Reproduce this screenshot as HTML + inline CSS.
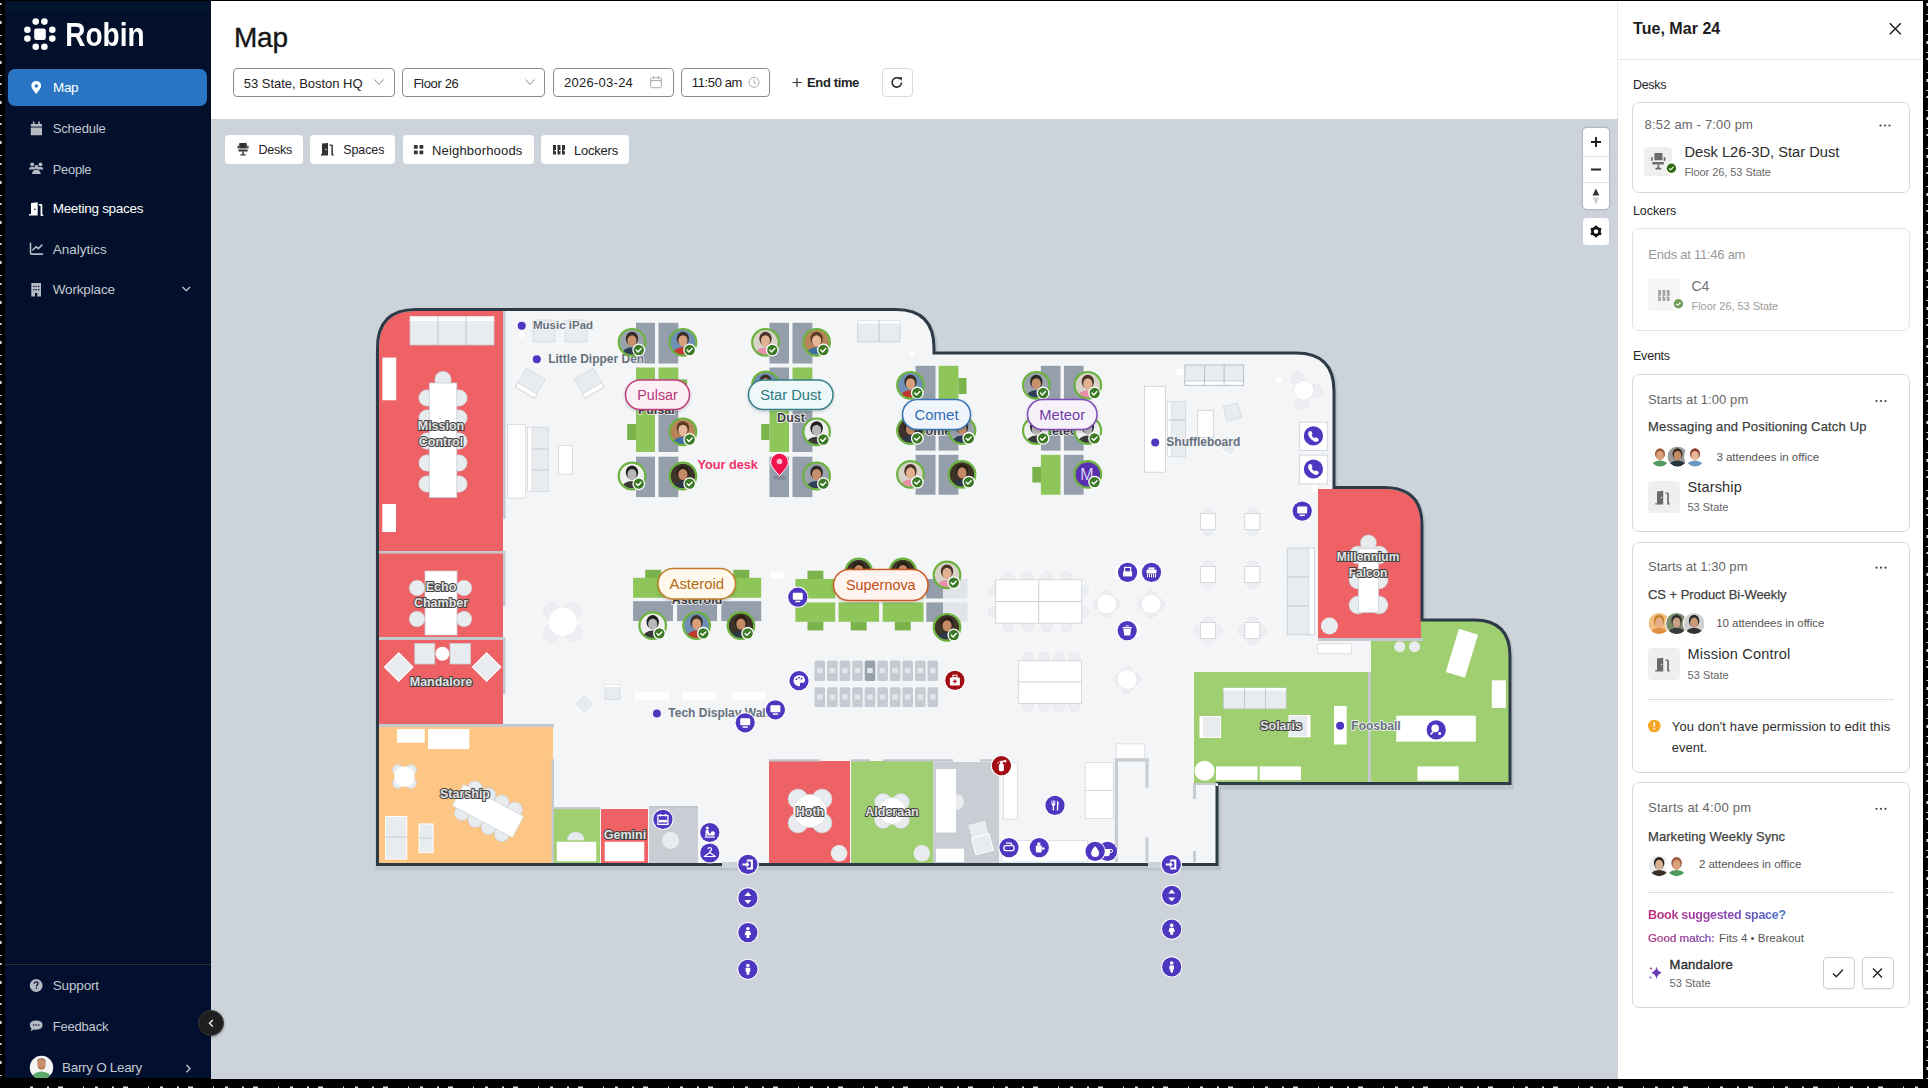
<!DOCTYPE html>
<html><head><meta charset="utf-8">
<style>
*{margin:0;padding:0}
html,body{width:1928px;height:1088px;overflow:hidden;background:#000;font-family:"Liberation Sans",sans-serif}
.a{position:absolute}
.t{white-space:nowrap;line-height:normal}
</style></head><body>
<div class="a" style="left:5px;top:1px;width:206.00px;height:1078.00px;background:#02102c"></div>
<div class="a" style="left:5px;top:1px;width:206.00px;height:10.00px;background:#03142d"></div>
<div class="a" style="left:211px;top:1px;width:1407.00px;height:118.00px;background:#fff"></div>
<div class="a" style="left:211px;top:119px;width:1407.00px;height:960.00px;background:#ccd3db"></div>
<div class="a" style="left:211px;top:119px;width:1407px;height:960px;overflow:hidden"><svg class="a" style="left:-211px;top:-119px" width="1928" height="1088" viewBox="0 0 1928 1088">
<path d="M 377.5 864.5 L 377.5 348 Q 377.5 309.5 416 309.5 L 896 309.5 Q 934 309.5 934 348 L 934 353 L 1296 353 Q 1334 353 1334 391 L 1334 487.5 L 1384 487.5 Q 1422 487.5 1422 525 L 1422 620 L 1474 620 Q 1510 620 1510 656 L 1510 783.5 L 1217 783.5 L 1217 864.5 Z" fill="none" stroke="#000" stroke-opacity="0.08" stroke-width="6" transform="translate(1,3)"/>
<path d="M 377.5 864.5 L 377.5 348 Q 377.5 309.5 416 309.5 L 896 309.5 Q 934 309.5 934 348 L 934 353 L 1296 353 Q 1334 353 1334 391 L 1334 487.5 L 1384 487.5 Q 1422 487.5 1422 525 L 1422 620 L 1474 620 Q 1510 620 1510 656 L 1510 783.5 L 1217 783.5 L 1217 864.5 Z" fill="#f4f5f7"/>
<path d="M 379 552 L 379 348 Q 379 311 416 311 L 503 311 L 503 552 Z" fill="#ee6164"/>
<rect x="379.0" y="553.0" width="124.0" height="84.0" fill="#ee6164"/>
<rect x="379.0" y="640.0" width="124.0" height="84.0" fill="#ee6164"/>
<rect x="379.0" y="726.0" width="174.0" height="137.0" fill="#fdc684"/>
<rect x="554.0" y="809.0" width="46.0" height="54.0" fill="#a0cf72"/>
<rect x="601.0" y="809.0" width="47.0" height="54.0" fill="#ee6164"/>
<rect x="649.0" y="807.0" width="49.0" height="56.0" fill="#c9ced4"/>
<rect x="769.0" y="761.0" width="81.0" height="102.0" fill="#ee6164"/>
<rect x="851.0" y="761.0" width="82.0" height="102.0" fill="#a0cf72"/>
<rect x="933.0" y="762.0" width="66.0" height="101.0" fill="#c9ced4"/>
<rect x="1194.0" y="672.0" width="174.0" height="111.0" fill="#a0cf72"/>
<path d="M 1371 783 L 1371 621 L 1474 621 Q 1509 621 1509 656 L 1509 783 Z" fill="#a0cf72"/>
<path d="M 1318 638 L 1318 489 L 1384 489 Q 1421 489 1421 526 L 1421 638 Z" fill="#ee6164"/>
<rect x="379.0" y="551.0" width="126.0" height="2.5" fill="#c3c9cf"/>
<rect x="379.0" y="637.0" width="126.0" height="3.0" fill="#c3c9cf"/>
<rect x="379.0" y="724.0" width="175.0" height="3.0" fill="#c3c9cf"/>
<rect x="503.0" y="311.0" width="2.5" height="208.0" fill="#c3c9cf"/>
<rect x="503.0" y="551.0" width="2.5" height="55.0" fill="#c3c9cf"/>
<rect x="503.0" y="638.0" width="2.5" height="56.0" fill="#c3c9cf"/>
<rect x="551.5" y="759.0" width="2.5" height="104.0" fill="#c3c9cf"/>
<rect x="1368.0" y="672.0" width="3.0" height="112.0" fill="#c3c9cf"/>
<rect x="1318.0" y="638.0" width="105.0" height="3.0" fill="#c3c9cf"/>
<path d="M 377.5 864.5 L 377.5 348 Q 377.5 309.5 416 309.5 L 896 309.5 Q 934 309.5 934 348 L 934 353 L 1296 353 Q 1334 353 1334 391 L 1334 487.5 L 1384 487.5 Q 1422 487.5 1422 525 L 1422 620 L 1474 620 Q 1510 620 1510 656 L 1510 783.5 L 1217 783.5 L 1217 864.5 Z" fill="none" stroke="#2d3a47" stroke-width="3"/>
<rect x="722.0" y="862.0" width="37.0" height="6.0" fill="#ccd3db"/>
<rect x="1148.0" y="862.0" width="34.0" height="6.0" fill="#ccd3db"/>
<rect x="410.0" y="316.5" width="84.0" height="28.5" fill="#e9ecef" stroke="#c5ccd3" stroke-width="0.8"/>
<rect x="410.0" y="316.5" width="84.0" height="4.5" fill="#fff"/>
<line x1="438" y1="316.5" x2="438" y2="345" stroke="#b9c0c7" stroke-width="0.8"/><line x1="466" y1="316.5" x2="466" y2="345" stroke="#b9c0c7" stroke-width="0.8"/>
<rect x="382.4" y="357.6" width="13.8" height="42.7" fill="#fff"/>
<rect x="382.3" y="504.0" width="13.7" height="28.0" fill="#fff"/>
<circle cx="427.0" cy="398.0" r="8.2" fill="#e9ecef" stroke="#c5ccd3" stroke-width="0.6"/>
<circle cx="459.0" cy="398.0" r="8.2" fill="#e9ecef" stroke="#c5ccd3" stroke-width="0.6"/>
<circle cx="427.0" cy="418.0" r="8.2" fill="#e9ecef" stroke="#c5ccd3" stroke-width="0.6"/>
<circle cx="459.0" cy="418.0" r="8.2" fill="#e9ecef" stroke="#c5ccd3" stroke-width="0.6"/>
<circle cx="427.0" cy="441.0" r="8.2" fill="#e9ecef" stroke="#c5ccd3" stroke-width="0.6"/>
<circle cx="459.0" cy="441.0" r="8.2" fill="#e9ecef" stroke="#c5ccd3" stroke-width="0.6"/>
<circle cx="427.0" cy="463.0" r="8.2" fill="#e9ecef" stroke="#c5ccd3" stroke-width="0.6"/>
<circle cx="459.0" cy="463.0" r="8.2" fill="#e9ecef" stroke="#c5ccd3" stroke-width="0.6"/>
<circle cx="427.0" cy="484.0" r="8.2" fill="#e9ecef" stroke="#c5ccd3" stroke-width="0.6"/>
<circle cx="459.0" cy="484.0" r="8.2" fill="#e9ecef" stroke="#c5ccd3" stroke-width="0.6"/>
<circle cx="443.0" cy="379.5" r="8.2" fill="#e9ecef" stroke="#c5ccd3" stroke-width="0.6"/>
<rect x="429.3" y="383.0" width="27.5" height="114.4" fill="#fff" stroke="#c9d0d6" stroke-width="0.8"/>
<text x="441" y="430" font-size="12.5" font-weight="bold" text-anchor="middle" fill="#e3e3e3" stroke="#424242" stroke-width="2.1" paint-order="stroke" stroke-linejoin="round" font-family="Liberation Sans">Mission</text>
<text x="441" y="446" font-size="12.5" font-weight="bold" text-anchor="middle" fill="#e3e3e3" stroke="#424242" stroke-width="2.1" paint-order="stroke" stroke-linejoin="round" font-family="Liberation Sans">Control</text>
<circle cx="417.0" cy="588.0" r="7.8" fill="#e9ecef" stroke="#c5ccd3" stroke-width="0.6"/>
<circle cx="464.0" cy="588.0" r="7.8" fill="#e9ecef" stroke="#c5ccd3" stroke-width="0.6"/>
<circle cx="417.0" cy="619.0" r="7.8" fill="#e9ecef" stroke="#c5ccd3" stroke-width="0.6"/>
<circle cx="464.0" cy="619.0" r="7.8" fill="#e9ecef" stroke="#c5ccd3" stroke-width="0.6"/>
<rect x="425.0" y="571.0" width="32.0" height="64.0" fill="#fff" stroke="#c9d0d6" stroke-width="0.8"/>
<text x="441" y="591" font-size="12.5" font-weight="bold" text-anchor="middle" fill="#e3e3e3" stroke="#424242" stroke-width="2.1" paint-order="stroke" stroke-linejoin="round" font-family="Liberation Sans">Echo</text>
<text x="441" y="607" font-size="12.5" font-weight="bold" text-anchor="middle" fill="#e3e3e3" stroke="#424242" stroke-width="2.1" paint-order="stroke" stroke-linejoin="round" font-family="Liberation Sans">Chamber</text>
<rect x="414.8" y="643.4" width="20.0" height="20.6" fill="#e9ecef" stroke="#c5ccd3" stroke-width="0.8"/>
<rect x="450.0" y="643.4" width="20.5" height="20.6" fill="#e9ecef" stroke="#c5ccd3" stroke-width="0.8"/>
<circle cx="442.4" cy="653.7" r="7" fill="#fff"/>
<rect x="388.7" y="657" width="20" height="20" fill="#e9ecef" stroke="#fff" stroke-width="1.2" transform="rotate(45 398.7 667)"/>
<rect x="476.6" y="657" width="20" height="20" fill="#e9ecef" stroke="#fff" stroke-width="1.2" transform="rotate(45 486.6 667)"/>
<text x="441" y="686" font-size="12.5" font-weight="bold" text-anchor="middle" fill="#e3e3e3" stroke="#424242" stroke-width="2.1" paint-order="stroke" stroke-linejoin="round" font-family="Liberation Sans">Mandalore</text>
<rect x="397.0" y="729.0" width="27.7" height="13.7" fill="#fff"/>
<rect x="428.0" y="729.0" width="41.3" height="20.0" fill="#fff"/>
<circle cx="398.0" cy="770.0" r="5.5" fill="#e9ecef" stroke="#c5ccd3" stroke-width="0.6"/>
<circle cx="411.0" cy="770.0" r="5.5" fill="#e9ecef" stroke="#c5ccd3" stroke-width="0.6"/>
<circle cx="398.0" cy="783.0" r="5.5" fill="#e9ecef" stroke="#c5ccd3" stroke-width="0.6"/>
<circle cx="411.0" cy="783.0" r="5.5" fill="#e9ecef" stroke="#c5ccd3" stroke-width="0.6"/>
<circle cx="404.5" cy="776.7" r="10.3" fill="#fff"/>
<g transform="rotate(28 488 811)">
<circle cx="466.0" cy="797.0" r="7.5" fill="#e9ecef" stroke="#c5ccd3" stroke-width="0.6"/>
<circle cx="466.0" cy="825.0" r="7.5" fill="#e9ecef" stroke="#c5ccd3" stroke-width="0.6"/>
<circle cx="481.0" cy="797.0" r="7.5" fill="#e9ecef" stroke="#c5ccd3" stroke-width="0.6"/>
<circle cx="481.0" cy="825.0" r="7.5" fill="#e9ecef" stroke="#c5ccd3" stroke-width="0.6"/>
<circle cx="496.0" cy="797.0" r="7.5" fill="#e9ecef" stroke="#c5ccd3" stroke-width="0.6"/>
<circle cx="496.0" cy="825.0" r="7.5" fill="#e9ecef" stroke="#c5ccd3" stroke-width="0.6"/>
<circle cx="511.0" cy="797.0" r="7.5" fill="#e9ecef" stroke="#c5ccd3" stroke-width="0.6"/>
<circle cx="511.0" cy="825.0" r="7.5" fill="#e9ecef" stroke="#c5ccd3" stroke-width="0.6"/>
<rect x="454.0" y="799.0" width="68.0" height="24.0" fill="#fff" stroke="#d3d9de" stroke-width="0.8"/>
</g>
<rect x="385.6" y="816.5" width="21.2" height="42.5" fill="#e9ecef" stroke="#fff" stroke-width="1"/>
<line x1="385.6" y1="837" x2="406.8" y2="837" stroke="#c0c7ce" stroke-width="0.8"/>
<rect x="419.0" y="823.9" width="14.2" height="28.7" fill="#e9ecef" stroke="#fff" stroke-width="1"/>
<line x1="419" y1="838" x2="433.2" y2="838" stroke="#c0c7ce" stroke-width="0.8"/>
<text x="465" y="798" font-size="12.5" font-weight="bold" text-anchor="middle" fill="#e3e3e3" stroke="#424242" stroke-width="2.1" paint-order="stroke" stroke-linejoin="round" font-family="Liberation Sans">Starship</text>
<rect x="554.0" y="807.0" width="46.0" height="2.0" fill="#c3c9cf"/>
<circle cx="575.8" cy="840.5" r="8.7" fill="#e9ecef" stroke="#c5ccd3" stroke-width="0.6"/>
<rect x="556.0" y="841.0" width="41.0" height="21.0" fill="#fff" stroke="#a0cf72" stroke-width="1.5"/>
<rect x="604.0" y="841.0" width="41.0" height="21.0" fill="#fff" stroke="#ee6164" stroke-width="1.5"/>
<circle cx="670.6" cy="840.5" r="8.5" fill="#e9ecef"/>
<rect x="649.0" y="806.0" width="49.0" height="2.0" fill="#bfc5cc"/>
<text x="625" y="839" font-size="12.5" font-weight="bold" text-anchor="middle" fill="#e3e3e3" stroke="#424242" stroke-width="2.1" paint-order="stroke" stroke-linejoin="round" font-family="Liberation Sans">Gemini</text>
<circle cx="798.0" cy="799.0" r="10" fill="#e9ecef" stroke="#c5ccd3" stroke-width="0.6"/>
<circle cx="822.0" cy="799.0" r="10" fill="#e9ecef" stroke="#c5ccd3" stroke-width="0.6"/>
<circle cx="798.0" cy="823.0" r="10" fill="#e9ecef" stroke="#c5ccd3" stroke-width="0.6"/>
<circle cx="822.0" cy="823.0" r="10" fill="#e9ecef" stroke="#c5ccd3" stroke-width="0.6"/>
<circle cx="810.0" cy="811.0" r="16.5" fill="#fff" stroke="#d7dce1" stroke-width="0.8"/>
<circle cx="839.1" cy="853.3" r="8.3" fill="#e9ecef"/>
<text x="810" y="816" font-size="12.5" font-weight="bold" text-anchor="middle" fill="#e3e3e3" stroke="#424242" stroke-width="2.1" paint-order="stroke" stroke-linejoin="round" font-family="Liberation Sans">Hoth</text>
<circle cx="883.0" cy="802.0" r="8.5" fill="#e9ecef" stroke="#c5ccd3" stroke-width="0.6"/>
<circle cx="901.0" cy="802.0" r="8.5" fill="#e9ecef" stroke="#c5ccd3" stroke-width="0.6"/>
<circle cx="883.0" cy="820.0" r="8.5" fill="#e9ecef" stroke="#c5ccd3" stroke-width="0.6"/>
<circle cx="901.0" cy="820.0" r="8.5" fill="#e9ecef" stroke="#c5ccd3" stroke-width="0.6"/>
<circle cx="892.3" cy="811.0" r="13.5" fill="#fff" stroke="#d7dce1" stroke-width="0.8"/>
<circle cx="921.8" cy="853.3" r="8.3" fill="#e9ecef"/>
<text x="892" y="816" font-size="12.5" font-weight="bold" text-anchor="middle" fill="#e3e3e3" stroke="#424242" stroke-width="2.1" paint-order="stroke" stroke-linejoin="round" font-family="Liberation Sans">Alderaan</text>
<rect x="769.0" y="759.3" width="51.0" height="2.2" fill="#bfc5cc"/>
<rect x="851.0" y="759.3" width="19.0" height="2.2" fill="#bfc5cc"/>
<rect x="883.0" y="759.3" width="70.0" height="2.2" fill="#bfc5cc"/>
<rect x="980.0" y="759.3" width="20.0" height="2.2" fill="#bfc5cc"/>
<rect x="936.0" y="769.0" width="20.0" height="63.5" fill="#fff"/>
<rect x="936.0" y="848.7" width="28.0" height="13.3" fill="#fff"/>
<path d="M 956 794 A 8 8 0 0 1 956 810 Z" fill="#e9ecef"/>
<g transform="rotate(-15 980 835)"><rect x="972" y="823" width="16" height="13" fill="#e9ecef" stroke="#fff" stroke-width="0.8" stroke-dasharray="1.5 1"/><rect x="971" y="836" width="18" height="17" fill="#e9ecef" stroke="#fff" stroke-width="1"/></g>
<rect x="1003.3" y="762.9" width="14.0" height="56.2" fill="#fff" stroke="#d3d9de" stroke-width="0.8"/>
<rect x="1001.6" y="840.7" width="86.1" height="21.3" fill="#fff" stroke="#d3d9de" stroke-width="0.8"/>
<rect x="1085.2" y="762.4" width="28.1" height="28.1" fill="#fff" stroke="#d3d9de" stroke-width="0.8"/>
<rect x="1085.2" y="790.5" width="28.1" height="28.1" fill="#fff" stroke="#d3d9de" stroke-width="0.8"/>
<rect x="1116.1" y="743.9" width="28.7" height="14.8" fill="#fff" stroke="#d3d9de" stroke-width="0.8"/>
<rect x="1114.8" y="758.5" width="3.2" height="103.5" fill="#c6ccd2"/>
<rect x="1114.8" y="758.5" width="34.2" height="3.0" fill="#c6ccd2"/>
<rect x="1145.5" y="758.5" width="3.0" height="29.2" fill="#c6ccd2"/>
<rect x="1145.5" y="837.3" width="3.0" height="24.7" fill="#c6ccd2"/>
<rect x="1193.0" y="784.0" width="3.0" height="15.0" fill="#c6ccd2"/>
<rect x="1193.0" y="851.0" width="3.0" height="11.0" fill="#c6ccd2"/>
<rect x="1193.0" y="783.0" width="25.0" height="2.0" fill="#c6ccd2"/>
<rect x="1216.0" y="784.0" width="2.0" height="2.0" fill="#fff"/>
<rect x="507.4" y="424.5" width="18.3" height="73.5" fill="#fff" stroke="#d3d9de" stroke-width="0.8"/>
<rect x="527.6" y="427.2" width="21.1" height="64.4" fill="#e9ecef" stroke="#d3d9de" stroke-width="0.8"/>
<rect x="527.6" y="427.2" width="4.4" height="64.4" fill="#fff" stroke="#d3d9de" stroke-width="0.6"/>
<line x1="532" y1="449" x2="548.7" y2="449" stroke="#c0c7ce" stroke-width="0.8"/><line x1="532" y1="470" x2="548.7" y2="470" stroke="#c0c7ce" stroke-width="0.8"/>
<rect x="558.5" y="445.6" width="14.1" height="28.5" fill="#fff" stroke="#d3d9de" stroke-width="0.8"/>
<circle cx="521.7" cy="334.5" r="3" fill="#fff"/>
<rect x="533.0" y="320.0" width="22.0" height="22.0" fill="#e9ecef" stroke="#d3d9de" stroke-width="0.8"/>
<rect x="565.0" y="320.0" width="22.0" height="22.0" fill="#e9ecef" stroke="#d3d9de" stroke-width="0.8"/>
<g transform="rotate(30 530.3 383.1)"><rect x="519.3" y="372.1" width="22" height="22" fill="#e9ecef" stroke="#c5ccd3" stroke-width="0.8" stroke-dasharray="1.5 1"/><rect x="519.3" y="389" width="22" height="5" fill="#fff" stroke="#c5ccd3" stroke-width="0.6"/></g>
<g transform="rotate(-30 589.2 383.1)"><rect x="578.2" y="372.1" width="22" height="22" fill="#e9ecef" stroke="#c5ccd3" stroke-width="0.8" stroke-dasharray="1.5 1"/><rect x="578.2" y="389" width="22" height="5" fill="#fff" stroke="#c5ccd3" stroke-width="0.6"/></g>
<rect x="857.8" y="320.6" width="42.2" height="21.2" fill="#e9ecef" stroke="#c5ccd3" stroke-width="0.8"/>
<rect x="857.8" y="320.6" width="42.2" height="2.9" fill="#fff"/>
<line x1="879" y1="320.6" x2="879" y2="341.8" stroke="#b9c0c7" stroke-width="0.8"/>
<circle cx="912.0" cy="353.0" r="2.5" fill="#fff"/>
<circle cx="552.0" cy="611.0" r="8.5" fill="#eceef1" stroke="#d5dade" stroke-width="0.6" stroke-dasharray="1.2 1"/>
<circle cx="573.0" cy="611.0" r="8.5" fill="#eceef1" stroke="#d5dade" stroke-width="0.6" stroke-dasharray="1.2 1"/>
<circle cx="552.0" cy="633.0" r="8.5" fill="#eceef1" stroke="#d5dade" stroke-width="0.6" stroke-dasharray="1.2 1"/>
<circle cx="573.0" cy="633.0" r="8.5" fill="#eceef1" stroke="#d5dade" stroke-width="0.6" stroke-dasharray="1.2 1"/>
<circle cx="562.8" cy="621.9" r="14" fill="#fff"/>
<rect x="575" y="695.4" width="15.6" height="15.6" fill="#e9ecef" stroke="#fff" stroke-width="1" transform="rotate(45 582.8 705.4)"/>
<rect x="605.1" y="684.6" width="14.7" height="14.9" fill="#e9ecef" stroke="#d3d9de" stroke-width="0.8"/>
<rect x="605.1" y="684.6" width="14.7" height="2.4" fill="#fff"/>
<rect x="635.0" y="691.7" width="34.0" height="8.7" fill="#fff"/>
<rect x="682.7" y="691.7" width="33.9" height="8.7" fill="#fff"/>
<rect x="731.2" y="691.7" width="34.0" height="8.7" fill="#fff"/>
<circle cx="656.9" cy="713.5" r="4" fill="#4d37c1"/>
<text x="668.3" y="716.8" font-size="12" font-weight="bold" fill="#66717d" stroke="#f4f5f7" stroke-width="1.5" paint-order="stroke" font-family="Liberation Sans">Tech Display Wall</text>
<rect x="814.5" y="660.4" width="10.6" height="20.5" fill="#c4cbd3" rx="1.5"/>
<rect x="817.0" y="668.1" width="5.5" height="5.0" fill="#e4e7ea"/>
<rect x="827.1" y="660.4" width="10.6" height="20.5" fill="#c4cbd3" rx="1.5"/>
<rect x="829.6" y="668.1" width="5.5" height="5.0" fill="#e4e7ea"/>
<rect x="839.6" y="660.4" width="10.6" height="20.5" fill="#c4cbd3" rx="1.5"/>
<rect x="842.1" y="668.1" width="5.5" height="5.0" fill="#e4e7ea"/>
<rect x="852.2" y="660.4" width="10.6" height="20.5" fill="#c4cbd3" rx="1.5"/>
<rect x="854.7" y="668.1" width="5.5" height="5.0" fill="#e4e7ea"/>
<rect x="864.7" y="660.4" width="10.6" height="20.5" fill="#97a2ad" rx="1.5"/>
<rect x="867.2" y="668.1" width="5.5" height="5.0" fill="#e4e7ea"/>
<rect x="877.3" y="660.4" width="10.6" height="20.5" fill="#c4cbd3" rx="1.5"/>
<rect x="879.8" y="668.1" width="5.5" height="5.0" fill="#e4e7ea"/>
<rect x="889.9" y="660.4" width="10.6" height="20.5" fill="#c4cbd3" rx="1.5"/>
<rect x="892.4" y="668.1" width="5.5" height="5.0" fill="#e4e7ea"/>
<rect x="902.4" y="660.4" width="10.6" height="20.5" fill="#c4cbd3" rx="1.5"/>
<rect x="904.9" y="668.1" width="5.5" height="5.0" fill="#e4e7ea"/>
<rect x="915.0" y="660.4" width="10.6" height="20.5" fill="#c4cbd3" rx="1.5"/>
<rect x="917.5" y="668.1" width="5.5" height="5.0" fill="#e4e7ea"/>
<rect x="927.5" y="660.4" width="10.6" height="20.5" fill="#c4cbd3" rx="1.5"/>
<rect x="930.0" y="668.1" width="5.5" height="5.0" fill="#e4e7ea"/>
<rect x="814.5" y="687.2" width="10.6" height="19.7" fill="#c4cbd3" rx="1.5"/>
<rect x="817.0" y="694.5" width="5.5" height="5.0" fill="#e4e7ea"/>
<rect x="827.1" y="687.2" width="10.6" height="19.7" fill="#c4cbd3" rx="1.5"/>
<rect x="829.6" y="694.5" width="5.5" height="5.0" fill="#e4e7ea"/>
<rect x="839.6" y="687.2" width="10.6" height="19.7" fill="#c4cbd3" rx="1.5"/>
<rect x="842.1" y="694.5" width="5.5" height="5.0" fill="#e4e7ea"/>
<rect x="852.2" y="687.2" width="10.6" height="19.7" fill="#c4cbd3" rx="1.5"/>
<rect x="854.7" y="694.5" width="5.5" height="5.0" fill="#e4e7ea"/>
<rect x="864.7" y="687.2" width="10.6" height="19.7" fill="#c4cbd3" rx="1.5"/>
<rect x="867.2" y="694.5" width="5.5" height="5.0" fill="#e4e7ea"/>
<rect x="877.3" y="687.2" width="10.6" height="19.7" fill="#c4cbd3" rx="1.5"/>
<rect x="879.8" y="694.5" width="5.5" height="5.0" fill="#e4e7ea"/>
<rect x="889.9" y="687.2" width="10.6" height="19.7" fill="#c4cbd3" rx="1.5"/>
<rect x="892.4" y="694.5" width="5.5" height="5.0" fill="#e4e7ea"/>
<rect x="902.4" y="687.2" width="10.6" height="19.7" fill="#c4cbd3" rx="1.5"/>
<rect x="904.9" y="694.5" width="5.5" height="5.0" fill="#e4e7ea"/>
<rect x="915.0" y="687.2" width="10.6" height="19.7" fill="#c4cbd3" rx="1.5"/>
<rect x="917.5" y="694.5" width="5.5" height="5.0" fill="#e4e7ea"/>
<rect x="927.5" y="687.2" width="10.6" height="19.7" fill="#c4cbd3" rx="1.5"/>
<rect x="930.0" y="694.5" width="5.5" height="5.0" fill="#e4e7ea"/>
<circle cx="1008.0" cy="577.0" r="5.5" fill="#eceef1" stroke="#d5dade" stroke-width="0.6" stroke-dasharray="1.2 1"/>
<circle cx="1008.0" cy="626.0" r="5.5" fill="#eceef1" stroke="#d5dade" stroke-width="0.6" stroke-dasharray="1.2 1"/>
<circle cx="1027.5" cy="577.0" r="5.5" fill="#eceef1" stroke="#d5dade" stroke-width="0.6" stroke-dasharray="1.2 1"/>
<circle cx="1027.5" cy="626.0" r="5.5" fill="#eceef1" stroke="#d5dade" stroke-width="0.6" stroke-dasharray="1.2 1"/>
<circle cx="1047.0" cy="577.0" r="5.5" fill="#eceef1" stroke="#d5dade" stroke-width="0.6" stroke-dasharray="1.2 1"/>
<circle cx="1047.0" cy="626.0" r="5.5" fill="#eceef1" stroke="#d5dade" stroke-width="0.6" stroke-dasharray="1.2 1"/>
<circle cx="1066.5" cy="577.0" r="5.5" fill="#eceef1" stroke="#d5dade" stroke-width="0.6" stroke-dasharray="1.2 1"/>
<circle cx="1066.5" cy="626.0" r="5.5" fill="#eceef1" stroke="#d5dade" stroke-width="0.6" stroke-dasharray="1.2 1"/>
<circle cx="994.0" cy="591.0" r="5.5" fill="#eceef1" stroke="#d5dade" stroke-width="0.6" stroke-dasharray="1.2 1"/>
<circle cx="1083.0" cy="591.0" r="5.5" fill="#eceef1" stroke="#d5dade" stroke-width="0.6" stroke-dasharray="1.2 1"/>
<circle cx="994.0" cy="612.0" r="5.5" fill="#eceef1" stroke="#d5dade" stroke-width="0.6" stroke-dasharray="1.2 1"/>
<circle cx="1083.0" cy="612.0" r="5.5" fill="#eceef1" stroke="#d5dade" stroke-width="0.6" stroke-dasharray="1.2 1"/>
<rect x="995.7" y="579.8" width="86.0" height="43.4" fill="#fff" stroke="#c9d0d6" stroke-width="0.8"/>
<line x1="1038.7" y1="579.8" x2="1038.7" y2="623.2" stroke="#c9d0d6"/><line x1="995.7" y1="601.5" x2="1081.7" y2="601.5" stroke="#c9d0d6"/>
<circle cx="1028.0" cy="658.0" r="5.5" fill="#eceef1" stroke="#d5dade" stroke-width="0.6" stroke-dasharray="1.2 1"/>
<circle cx="1028.0" cy="706.0" r="5.5" fill="#eceef1" stroke="#d5dade" stroke-width="0.6" stroke-dasharray="1.2 1"/>
<circle cx="1043.5" cy="658.0" r="5.5" fill="#eceef1" stroke="#d5dade" stroke-width="0.6" stroke-dasharray="1.2 1"/>
<circle cx="1043.5" cy="706.0" r="5.5" fill="#eceef1" stroke="#d5dade" stroke-width="0.6" stroke-dasharray="1.2 1"/>
<circle cx="1059.0" cy="658.0" r="5.5" fill="#eceef1" stroke="#d5dade" stroke-width="0.6" stroke-dasharray="1.2 1"/>
<circle cx="1059.0" cy="706.0" r="5.5" fill="#eceef1" stroke="#d5dade" stroke-width="0.6" stroke-dasharray="1.2 1"/>
<circle cx="1074.5" cy="658.0" r="5.5" fill="#eceef1" stroke="#d5dade" stroke-width="0.6" stroke-dasharray="1.2 1"/>
<circle cx="1074.5" cy="706.0" r="5.5" fill="#eceef1" stroke="#d5dade" stroke-width="0.6" stroke-dasharray="1.2 1"/>
<rect x="1018.3" y="660.8" width="63.4" height="42.7" fill="#fff" stroke="#c9d0d6" stroke-width="0.8"/>
<line x1="1018.3" y1="682" x2="1081.7" y2="682" stroke="#c9d0d6"/>
<circle cx="1106.5" cy="596.1" r="5.5" fill="#eceef1" stroke="#d5dade" stroke-width="0.6" stroke-dasharray="1.2 1"/>
<circle cx="1106.5" cy="612.1" r="5.5" fill="#eceef1" stroke="#d5dade" stroke-width="0.6" stroke-dasharray="1.2 1"/>
<circle cx="1098.5" cy="604.1" r="5.5" fill="#eceef1" stroke="#d5dade" stroke-width="0.6" stroke-dasharray="1.2 1"/>
<circle cx="1114.5" cy="604.1" r="5.5" fill="#eceef1" stroke="#d5dade" stroke-width="0.6" stroke-dasharray="1.2 1"/>
<circle cx="1106.5" cy="604.1" r="10" fill="#fff" stroke="#d7dce1" stroke-width="0.6"/>
<circle cx="1151.1" cy="596.1" r="5.5" fill="#eceef1" stroke="#d5dade" stroke-width="0.6" stroke-dasharray="1.2 1"/>
<circle cx="1151.1" cy="612.1" r="5.5" fill="#eceef1" stroke="#d5dade" stroke-width="0.6" stroke-dasharray="1.2 1"/>
<circle cx="1143.1" cy="604.1" r="5.5" fill="#eceef1" stroke="#d5dade" stroke-width="0.6" stroke-dasharray="1.2 1"/>
<circle cx="1159.1" cy="604.1" r="5.5" fill="#eceef1" stroke="#d5dade" stroke-width="0.6" stroke-dasharray="1.2 1"/>
<circle cx="1151.1" cy="604.1" r="10" fill="#fff" stroke="#d7dce1" stroke-width="0.6"/>
<circle cx="1127.2" cy="671.6" r="5.5" fill="#eceef1" stroke="#d5dade" stroke-width="0.6" stroke-dasharray="1.2 1"/>
<circle cx="1127.2" cy="687.6" r="5.5" fill="#eceef1" stroke="#d5dade" stroke-width="0.6" stroke-dasharray="1.2 1"/>
<circle cx="1119.2" cy="679.6" r="5.5" fill="#eceef1" stroke="#d5dade" stroke-width="0.6" stroke-dasharray="1.2 1"/>
<circle cx="1135.2" cy="679.6" r="5.5" fill="#eceef1" stroke="#d5dade" stroke-width="0.6" stroke-dasharray="1.2 1"/>
<circle cx="1127.2" cy="679.6" r="10" fill="#fff" stroke="#d7dce1" stroke-width="0.6"/>
<rect x="1115.0" y="566.0" width="25.0" height="13.0" fill="#fff"/>
<rect x="1117.0" y="624.0" width="23.0" height="13.0" fill="#fff"/>
<circle cx="1208.1" cy="513.7" r="6" fill="#eceef1" stroke="#d5dade" stroke-width="0.6" stroke-dasharray="1.2 1"/>
<circle cx="1208.1" cy="529.7" r="6" fill="#eceef1" stroke="#d5dade" stroke-width="0.6" stroke-dasharray="1.2 1"/>
<rect x="1200.6" y="513.7" width="15.0" height="16.0" fill="#fff" stroke="#c9d0d6" stroke-width="0.8"/>
<circle cx="1208.1" cy="566.5" r="6" fill="#eceef1" stroke="#d5dade" stroke-width="0.6" stroke-dasharray="1.2 1"/>
<circle cx="1208.1" cy="582.5" r="6" fill="#eceef1" stroke="#d5dade" stroke-width="0.6" stroke-dasharray="1.2 1"/>
<rect x="1200.6" y="566.5" width="15.0" height="16.0" fill="#fff" stroke="#c9d0d6" stroke-width="0.8"/>
<circle cx="1208.1" cy="622.6" r="6" fill="#eceef1" stroke="#d5dade" stroke-width="0.6" stroke-dasharray="1.2 1"/>
<circle cx="1208.1" cy="638.6" r="6" fill="#eceef1" stroke="#d5dade" stroke-width="0.6" stroke-dasharray="1.2 1"/>
<circle cx="1200.1" cy="630.6" r="6" fill="#eceef1" stroke="#d5dade" stroke-width="0.6" stroke-dasharray="1.2 1"/>
<circle cx="1216.1" cy="630.6" r="6" fill="#eceef1" stroke="#d5dade" stroke-width="0.6" stroke-dasharray="1.2 1"/>
<rect x="1200.6" y="622.6" width="15.0" height="16.0" fill="#fff" stroke="#c9d0d6" stroke-width="0.8"/>
<circle cx="1252.3" cy="513.7" r="6" fill="#eceef1" stroke="#d5dade" stroke-width="0.6" stroke-dasharray="1.2 1"/>
<circle cx="1252.3" cy="529.7" r="6" fill="#eceef1" stroke="#d5dade" stroke-width="0.6" stroke-dasharray="1.2 1"/>
<rect x="1244.8" y="513.7" width="15.0" height="16.0" fill="#fff" stroke="#c9d0d6" stroke-width="0.8"/>
<circle cx="1252.3" cy="566.5" r="6" fill="#eceef1" stroke="#d5dade" stroke-width="0.6" stroke-dasharray="1.2 1"/>
<circle cx="1252.3" cy="582.5" r="6" fill="#eceef1" stroke="#d5dade" stroke-width="0.6" stroke-dasharray="1.2 1"/>
<rect x="1244.8" y="566.5" width="15.0" height="16.0" fill="#fff" stroke="#c9d0d6" stroke-width="0.8"/>
<circle cx="1252.3" cy="622.6" r="6" fill="#eceef1" stroke="#d5dade" stroke-width="0.6" stroke-dasharray="1.2 1"/>
<circle cx="1252.3" cy="638.6" r="6" fill="#eceef1" stroke="#d5dade" stroke-width="0.6" stroke-dasharray="1.2 1"/>
<circle cx="1244.3" cy="630.6" r="6" fill="#eceef1" stroke="#d5dade" stroke-width="0.6" stroke-dasharray="1.2 1"/>
<circle cx="1260.3" cy="630.6" r="6" fill="#eceef1" stroke="#d5dade" stroke-width="0.6" stroke-dasharray="1.2 1"/>
<rect x="1244.8" y="622.6" width="15.0" height="16.0" fill="#fff" stroke="#c9d0d6" stroke-width="0.8"/>
<rect x="1287.2" y="548.1" width="27.1" height="86.7" fill="#e9ecef" stroke="#c5ccd3" stroke-width="0.8"/>
<rect x="1309.0" y="548.1" width="5.3" height="86.7" fill="#fff" stroke="#c5ccd3" stroke-width="0.6"/>
<line x1="1287.2" y1="577" x2="1309" y2="577" stroke="#b9c0c7" stroke-width="0.8"/><line x1="1287.2" y1="606" x2="1309" y2="606" stroke="#b9c0c7" stroke-width="0.8"/>
<rect x="1317.7" y="643.9" width="33.6" height="9.9" fill="#fff" stroke="#d3d9de" stroke-width="0.8"/>
<rect x="1312.0" y="485.0" width="6.0" height="7.0" fill="#fff"/>
<rect x="1184.9" y="365.0" width="58.8" height="20.2" fill="#e9ecef" stroke="#aeb6bf" stroke-width="0.8"/>
<rect x="1184.9" y="381.0" width="58.8" height="4.2" fill="#fff" stroke="#aeb6bf" stroke-width="0.6"/>
<line x1="1204.5" y1="365" x2="1204.5" y2="385.2" stroke="#aeb6bf" stroke-width="0.8"/><line x1="1224.1" y1="365" x2="1224.1" y2="385.2" stroke="#aeb6bf" stroke-width="0.8"/>
<rect x="1176.3" y="368.5" width="7.1" height="6.4" fill="#fff"/>
<rect x="1144.5" y="386.3" width="21.1" height="85.9" fill="#fff" stroke="#c9d0d6" stroke-width="0.8"/>
<rect x="1167.8" y="401.7" width="17.8" height="55.1" fill="#e9ecef" stroke="#d3d9de" stroke-width="0.8"/>
<rect x="1167.8" y="401.7" width="3.2" height="55.1" fill="#fff" stroke="#d3d9de" stroke-width="0.5"/>
<line x1="1167.8" y1="420" x2="1185.6" y2="420" stroke="#b9c0c7" stroke-width="0.8"/>
<rect x="1197.7" y="410.3" width="15.6" height="27.3" fill="#fff" stroke="#c9d0d6" stroke-width="0.8"/>
<rect x="1225" y="404.5" width="15" height="15" fill="#e9ecef" stroke="#b9c0c7" stroke-width="0.7" stroke-dasharray="1.2 1" transform="rotate(-15 1232.6 412)"/>
<rect x="1221.5" y="438" width="15" height="15" fill="#e9ecef" stroke="#fff" stroke-width="1" transform="rotate(30 1229 445.4)"/>
<circle cx="1155.2" cy="442.6" r="4" fill="#4d37c1"/>
<text x="1166.3" y="445.8" font-size="12" font-weight="bold" fill="#66717d" stroke="#f4f5f7" stroke-width="1.5" paint-order="stroke" font-family="Liberation Sans">Shuffleboard</text>
<circle cx="1297.8" cy="378.3" r="6.5" fill="#eceef1" stroke="#d5dade" stroke-width="0.6" stroke-dasharray="1.2 1"/>
<circle cx="1315.8" cy="390.3" r="6.5" fill="#eceef1" stroke="#d5dade" stroke-width="0.6" stroke-dasharray="1.2 1"/>
<circle cx="1301.8" cy="403.3" r="6.5" fill="#eceef1" stroke="#d5dade" stroke-width="0.6" stroke-dasharray="1.2 1"/>
<circle cx="1303.8" cy="390.3" r="10" fill="#fff" stroke="#d7dce1" stroke-width="0.6"/>
<circle cx="1278.9" cy="379.6" r="3" fill="#fff"/>
<rect x="1299.3" y="422.2" width="28.0" height="28.2" fill="#fff" stroke="#c9d0d6" stroke-width="0.8"/>
<rect x="1299.3" y="455.1" width="28.0" height="28.8" fill="#fff" stroke="#c9d0d6" stroke-width="0.8"/>
<circle cx="1358.0" cy="555.0" r="9" fill="#e9ecef" stroke="#c5ccd3" stroke-width="0.6"/>
<circle cx="1379.0" cy="555.0" r="9" fill="#e9ecef" stroke="#c5ccd3" stroke-width="0.6"/>
<circle cx="1358.0" cy="580.0" r="9" fill="#e9ecef" stroke="#c5ccd3" stroke-width="0.6"/>
<circle cx="1379.0" cy="580.0" r="9" fill="#e9ecef" stroke="#c5ccd3" stroke-width="0.6"/>
<circle cx="1358.0" cy="605.0" r="9" fill="#e9ecef" stroke="#c5ccd3" stroke-width="0.6"/>
<circle cx="1379.0" cy="605.0" r="9" fill="#e9ecef" stroke="#c5ccd3" stroke-width="0.6"/>
<circle cx="1368.4" cy="543.0" r="8" fill="#e9ecef" stroke="#c5ccd3" stroke-width="0.6"/>
<rect x="1358.4" y="548.4" width="20.0" height="64.1" fill="#fff" stroke="#c9d0d6" stroke-width="0.8"/>
<circle cx="1329.4" cy="625.9" r="8.5" fill="#e9ecef"/>
<text x="1368" y="561" font-size="12" font-weight="bold" text-anchor="middle" fill="#e3e3e3" stroke="#424242" stroke-width="2.1" paint-order="stroke" stroke-linejoin="round" font-family="Liberation Sans">Millennium</text>
<text x="1368" y="577" font-size="12" font-weight="bold" text-anchor="middle" fill="#e3e3e3" stroke="#424242" stroke-width="2.1" paint-order="stroke" stroke-linejoin="round" font-family="Liberation Sans">Falcon</text>
<circle cx="1399.7" cy="646.7" r="5.5" fill="#e9ecef"/>
<circle cx="1414.6" cy="646.7" r="5.5" fill="#e9ecef"/>
<rect x="1451.9" y="630.8" width="20" height="45" fill="#fff" transform="rotate(17 1461.9 653.3)"/>
<rect x="1491.8" y="680.3" width="14.0" height="27.7" fill="#fff"/>
<rect x="1396.3" y="715.7" width="79.5" height="25.9" fill="#fff"/>
<rect x="1417.4" y="766.4" width="41.3" height="14.3" fill="#fff"/>
<rect x="1223.5" y="688.0" width="62.6" height="20.7" fill="#e9ecef" stroke="#c5ccd3" stroke-width="0.8"/>
<rect x="1223.5" y="688.0" width="62.6" height="2.5" fill="#fff"/>
<line x1="1244.5" y1="688" x2="1244.5" y2="708.7" stroke="#b9c0c7" stroke-width="0.8"/><line x1="1265.5" y1="688" x2="1265.5" y2="708.7" stroke="#b9c0c7" stroke-width="0.8"/>
<rect x="1200.0" y="716.5" width="20.6" height="20.9" fill="#e9ecef" stroke="#fff" stroke-width="1"/>
<rect x="1200.0" y="716.5" width="3.0" height="20.9" fill="#fff"/>
<rect x="1289.0" y="715.5" width="21.0" height="21.3" fill="#e9ecef" stroke="#fff" stroke-width="1"/>
<rect x="1307.0" y="715.5" width="3.0" height="21.3" fill="#fff"/>
<rect x="1334.1" y="706.0" width="12.6" height="38.5" fill="#fff"/>
<rect x="1216.0" y="766.4" width="41.6" height="13.7" fill="#fff"/>
<rect x="1259.7" y="766.4" width="41.3" height="13.7" fill="#fff"/>
<circle cx="1204.5" cy="770.7" r="10" fill="#fff"/>
<text x="1281" y="730" font-size="12.5" font-weight="bold" text-anchor="middle" fill="#e3e3e3" stroke="#424242" stroke-width="2.1" paint-order="stroke" stroke-linejoin="round" font-family="Liberation Sans">Solaris</text>
<circle cx="1340.1" cy="725.7" r="4" fill="#4d37c1"/>
<text x="1351.3" y="729.6" font-size="12" font-weight="bold" fill="#66717d" stroke="#f4f5f7" stroke-width="1.5" paint-order="stroke" font-family="Liberation Sans">Foosball</text>
<rect x="636.0" y="322.8" width="19.0" height="40.7" fill="#949fab"/>
<rect x="658.5" y="322.8" width="19.8" height="40.7" fill="#949fab"/>
<rect x="636.0" y="367.5" width="19.0" height="42.0" fill="#8ec65a"/>
<rect x="658.5" y="367.5" width="19.8" height="42.0" fill="#8ec65a"/>
<rect x="636.0" y="410.5" width="19.0" height="41.5" fill="#8ec65a"/>
<rect x="658.5" y="410.5" width="19.8" height="41.5" fill="#949fab"/>
<rect x="636.0" y="456.7" width="19.0" height="40.4" fill="#949fab"/>
<rect x="658.5" y="456.7" width="19.8" height="40.4" fill="#949fab"/>
<rect x="627.2" y="424.0" width="8.8" height="16.0" fill="#7ab34b"/>
<rect x="678.3" y="379.4" width="8.8" height="12.0" fill="#7ab34b"/>
<rect x="769.5" y="322.8" width="19.5" height="40.7" fill="#949fab"/>
<rect x="792.5" y="322.8" width="19.9" height="40.7" fill="#949fab"/>
<rect x="769.5" y="367.5" width="19.5" height="42.0" fill="#949fab"/>
<rect x="792.5" y="367.5" width="19.9" height="42.0" fill="#8ec65a"/>
<rect x="769.5" y="410.5" width="19.5" height="41.5" fill="#8ec65a"/>
<rect x="792.5" y="410.5" width="19.9" height="41.5" fill="#949fab"/>
<rect x="769.5" y="456.7" width="19.5" height="40.4" fill="#949fab"/>
<rect x="792.5" y="456.7" width="19.9" height="40.4" fill="#949fab"/>
<rect x="761.2" y="424.0" width="8.3" height="16.0" fill="#7ab34b"/>
<rect x="915.6" y="365.8" width="19.9" height="41.7" fill="#949fab"/>
<rect x="938.6" y="365.8" width="19.8" height="41.7" fill="#8ec65a"/>
<rect x="915.6" y="408.5" width="19.9" height="42.1" fill="#949fab"/>
<rect x="938.6" y="408.5" width="19.8" height="42.1" fill="#949fab"/>
<rect x="915.6" y="454.8" width="19.9" height="39.9" fill="#949fab"/>
<rect x="938.6" y="454.8" width="19.8" height="39.9" fill="#949fab"/>
<rect x="958.4" y="378.0" width="8.1" height="16.0" fill="#7ab34b"/>
<rect x="1040.9" y="365.8" width="19.6" height="41.7" fill="#949fab"/>
<rect x="1063.9" y="365.8" width="19.7" height="41.7" fill="#949fab"/>
<rect x="1040.9" y="408.5" width="19.6" height="42.1" fill="#949fab"/>
<rect x="1063.9" y="408.5" width="19.7" height="42.1" fill="#949fab"/>
<rect x="1040.9" y="454.8" width="19.6" height="39.9" fill="#8ec65a"/>
<rect x="1063.9" y="454.8" width="19.7" height="39.9" fill="#949fab"/>
<rect x="1032.3" y="466.9" width="8.7" height="15.6" fill="#7ab34b"/>
<rect x="633.1" y="577.8" width="39.9" height="20.0" fill="#8ec65a"/>
<rect x="633.1" y="601.2" width="39.9" height="19.9" fill="#949fab"/>
<rect x="677.1" y="577.8" width="40.0" height="20.0" fill="#8ec65a"/>
<rect x="677.1" y="601.2" width="40.0" height="19.9" fill="#949fab"/>
<rect x="721.3" y="577.8" width="39.9" height="20.0" fill="#8ec65a"/>
<rect x="721.3" y="601.2" width="39.9" height="19.9" fill="#949fab"/>
<rect x="645.2" y="569.8" width="15.9" height="8.2" fill="#7ab34b"/>
<rect x="733.4" y="569.8" width="15.9" height="8.2" fill="#7ab34b"/>
<rect x="795.4" y="579.0" width="39.8" height="19.5" fill="#8ec65a"/>
<rect x="795.4" y="602.4" width="39.8" height="19.4" fill="#8ec65a"/>
<rect x="807.5" y="621.8" width="15.9" height="8.6" fill="#7ab34b"/>
<rect x="838.6" y="579.0" width="40.5" height="19.5" fill="#8ec65a"/>
<rect x="838.6" y="602.4" width="40.5" height="19.4" fill="#8ec65a"/>
<rect x="850.7" y="621.8" width="15.9" height="8.6" fill="#7ab34b"/>
<rect x="882.7" y="579.0" width="40.8" height="19.5" fill="#8ec65a"/>
<rect x="882.7" y="602.4" width="40.8" height="19.4" fill="#8ec65a"/>
<rect x="894.8" y="621.8" width="15.9" height="8.6" fill="#7ab34b"/>
<rect x="807.5" y="570.7" width="15.9" height="8.3" fill="#7ab34b"/>
<rect x="926.3" y="579.0" width="16.7" height="19.5" fill="#949fab"/>
<rect x="943.0" y="579.0" width="24.6" height="19.5" fill="#e1e5e9"/>
<rect x="926.3" y="602.4" width="16.7" height="19.4" fill="#949fab"/>
<rect x="943.0" y="602.4" width="24.6" height="19.4" fill="#e1e5e9"/>
<circle cx="521.7" cy="325.8" r="4" fill="#4d37c1"/>
<text x="533" y="329" font-size="11.5" font-weight="bold" fill="#66717d" stroke="#f4f5f7" stroke-width="1.5" paint-order="stroke" font-family="Liberation Sans">Music iPad</text>
<circle cx="536.8" cy="359.2" r="4" fill="#4d37c1"/>
<text x="548.2" y="363" font-size="12" font-weight="bold" fill="#66717d" stroke="#f4f5f7" stroke-width="1.5" paint-order="stroke" font-family="Liberation Sans">Little Dipper Den</text>
<rect x="770.3" y="571.5" width="13.1" height="7.0" fill="#fff"/>
<text x="657" y="414" font-size="12.5" font-weight="bold" text-anchor="middle" fill="#3f3f3f" stroke="#f4f5f7" stroke-width="1.6" paint-order="stroke" font-family="Liberation Sans">Pulsar</text>
<text x="791" y="421.5" font-size="12.5" font-weight="bold" text-anchor="middle" fill="#3f3f3f" stroke="#f4f5f7" stroke-width="1.6" paint-order="stroke" font-family="Liberation Sans">Dust</text>
<text x="936" y="435" font-size="12.5" font-weight="bold" text-anchor="middle" fill="#3f3f3f" stroke="#f4f5f7" stroke-width="1.6" paint-order="stroke" font-family="Liberation Sans">Comet</text>
<text x="1062" y="435" font-size="12.5" font-weight="bold" text-anchor="middle" fill="#3f3f3f" stroke="#f4f5f7" stroke-width="1.6" paint-order="stroke" font-family="Liberation Sans">Meteor</text>
<text x="697" y="604" font-size="12.5" font-weight="bold" text-anchor="middle" fill="#3f3f3f" stroke="#f4f5f7" stroke-width="1.6" paint-order="stroke" font-family="Liberation Sans">Asteroid</text>
<defs>
<radialGradient id="av0" cx="50%" cy="45%" r="55%"><stop offset="0" stop-color="#e0b49a"/><stop offset="0.45" stop-color="#b98468"/><stop offset="1" stop-color="#3b3330"/></radialGradient>
<radialGradient id="av1" cx="50%" cy="50%" r="55%"><stop offset="0" stop-color="#f0cdb4"/><stop offset="0.5" stop-color="#c89070"/><stop offset="1" stop-color="#6c7c8c"/></radialGradient>
<radialGradient id="av2" cx="50%" cy="40%" r="60%"><stop offset="0" stop-color="#d9a88a"/><stop offset="0.5" stop-color="#8a5a44"/><stop offset="1" stop-color="#2a2522"/></radialGradient>
<radialGradient id="av3" cx="50%" cy="50%" r="55%"><stop offset="0" stop-color="#eeeeee"/><stop offset="0.5" stop-color="#7a7a7a"/><stop offset="1" stop-color="#1e1e1e"/></radialGradient>
<radialGradient id="av4" cx="50%" cy="50%" r="55%"><stop offset="0" stop-color="#f3d2bc"/><stop offset="0.55" stop-color="#d6a080"/><stop offset="1" stop-color="#a8b4c0"/></radialGradient>
<filter id="sh" x="-20%" y="-20%" width="140%" height="160%"><feDropShadow dx="0" dy="1.5" stdDeviation="1.5" flood-color="#000" flood-opacity="0.18"/></filter>
</defs>
<clipPath id="ac6320_3423"><circle cx="632" cy="342.3" r="12.5"/></clipPath><g clip-path="url(#ac6320_3423)"><rect x="619" y="329.3" width="26" height="26" fill="#9aa3ab"/><ellipse cx="632" cy="338.8" rx="6.2" ry="7" fill="#2e2a28"/><ellipse cx="632" cy="340.8" rx="4.6" ry="5.6" fill="#c8906c"/><ellipse cx="632" cy="354.3" rx="10" ry="7" fill="#2d3e55"/></g>
<circle cx="632.0" cy="342.3" r="13.3" fill="none" stroke="#6cb23f" stroke-width="2.2"/>
<circle cx="638.8" cy="350.0" r="5.8" fill="#3d7a27" stroke="#fff" stroke-width="1.3"/>
<path d="M 636.2 350.1 l 1.8 1.8 l 3.2 -3.3" fill="none" stroke="#fff" stroke-width="1.4" stroke-linecap="round" stroke-linejoin="round"/>
<clipPath id="ac6829_3423"><circle cx="682.9" cy="342.3" r="12.5"/></clipPath><g clip-path="url(#ac6829_3423)"><rect x="669.9" y="329.3" width="26" height="26" fill="#6f8fb5"/><ellipse cx="682.9" cy="338.8" rx="6.2" ry="7" fill="#3a2f2a"/><ellipse cx="682.9" cy="340.8" rx="4.6" ry="5.6" fill="#d9a07c"/><ellipse cx="682.9" cy="354.3" rx="10" ry="7" fill="#c0392b"/></g>
<circle cx="682.9" cy="342.3" r="13.3" fill="none" stroke="#6cb23f" stroke-width="2.2"/>
<circle cx="689.7" cy="350.0" r="5.8" fill="#3d7a27" stroke="#fff" stroke-width="1.3"/>
<path d="M 687.1 350.1 l 1.8 1.8 l 3.2 -3.3" fill="none" stroke="#fff" stroke-width="1.4" stroke-linecap="round" stroke-linejoin="round"/>
<clipPath id="ac6829_4318"><circle cx="682.9" cy="431.8" r="12.5"/></clipPath><g clip-path="url(#ac6829_4318)"><rect x="669.9" y="418.8" width="26" height="26" fill="#b8845a"/><ellipse cx="682.9" cy="428.3" rx="6.2" ry="7" fill="#5a3a22"/><ellipse cx="682.9" cy="430.3" rx="4.6" ry="5.6" fill="#e6b89a"/><ellipse cx="682.9" cy="443.8" rx="10" ry="7" fill="#3b6fa0"/></g>
<circle cx="682.9" cy="431.8" r="13.3" fill="none" stroke="#6cb23f" stroke-width="2.2"/>
<circle cx="689.7" cy="439.5" r="5.8" fill="#3d7a27" stroke="#fff" stroke-width="1.3"/>
<path d="M 687.1 439.6 l 1.8 1.8 l 3.2 -3.3" fill="none" stroke="#fff" stroke-width="1.4" stroke-linecap="round" stroke-linejoin="round"/>
<clipPath id="ac6320_4760"><circle cx="632" cy="476" r="12.5"/></clipPath><g clip-path="url(#ac6320_4760)"><rect x="619" y="463" width="26" height="26" fill="#f0f0f0"/><ellipse cx="632" cy="472.5" rx="6.2" ry="7" fill="#1e1e1e"/><ellipse cx="632" cy="474.5" rx="4.6" ry="5.6" fill="#b8b8b8"/><ellipse cx="632" cy="488" rx="10" ry="7" fill="#3a3a3a"/></g>
<circle cx="632.0" cy="476.0" r="13.3" fill="none" stroke="#6cb23f" stroke-width="2.2"/>
<circle cx="638.8" cy="483.7" r="5.8" fill="#3d7a27" stroke="#fff" stroke-width="1.3"/>
<path d="M 636.2 483.8 l 1.8 1.8 l 3.2 -3.3" fill="none" stroke="#fff" stroke-width="1.4" stroke-linecap="round" stroke-linejoin="round"/>
<clipPath id="ac6829_4760"><circle cx="682.9" cy="476" r="12.5"/></clipPath><g clip-path="url(#ac6829_4760)"><rect x="669.9" y="463" width="26" height="26" fill="#3d3326"/><ellipse cx="682.9" cy="472.5" rx="6.2" ry="7" fill="#2a2018"/><ellipse cx="682.9" cy="474.5" rx="4.6" ry="5.6" fill="#c48a66"/><ellipse cx="682.9" cy="488" rx="10" ry="7" fill="#2c3646"/></g>
<circle cx="682.9" cy="476.0" r="13.3" fill="none" stroke="#6cb23f" stroke-width="2.2"/>
<circle cx="689.7" cy="483.7" r="5.8" fill="#3d7a27" stroke="#fff" stroke-width="1.3"/>
<path d="M 687.1 483.8 l 1.8 1.8 l 3.2 -3.3" fill="none" stroke="#fff" stroke-width="1.4" stroke-linecap="round" stroke-linejoin="round"/>
<clipPath id="ac7655_3423"><circle cx="765.5" cy="342.3" r="12.5"/></clipPath><g clip-path="url(#ac7655_3423)"><rect x="752.5" y="329.3" width="26" height="26" fill="#d8d2c8"/><ellipse cx="765.5" cy="338.8" rx="6.2" ry="7" fill="#4a3428"/><ellipse cx="765.5" cy="340.8" rx="4.6" ry="5.6" fill="#e0b090"/><ellipse cx="765.5" cy="354.3" rx="10" ry="7" fill="#e58fa8"/></g>
<circle cx="765.5" cy="342.3" r="13.3" fill="none" stroke="#6cb23f" stroke-width="2.2"/>
<circle cx="772.3" cy="350.0" r="5.8" fill="#3d7a27" stroke="#fff" stroke-width="1.3"/>
<path d="M 769.7 350.1 l 1.8 1.8 l 3.2 -3.3" fill="none" stroke="#fff" stroke-width="1.4" stroke-linecap="round" stroke-linejoin="round"/>
<clipPath id="ac8166_3423"><circle cx="816.6" cy="342.3" r="12.5"/></clipPath><g clip-path="url(#ac8166_3423)"><rect x="803.6" y="329.3" width="26" height="26" fill="#b8845a"/><ellipse cx="816.6" cy="338.8" rx="6.2" ry="7" fill="#5a3a22"/><ellipse cx="816.6" cy="340.8" rx="4.6" ry="5.6" fill="#e6b89a"/><ellipse cx="816.6" cy="354.3" rx="10" ry="7" fill="#3b6fa0"/></g>
<circle cx="816.6" cy="342.3" r="13.3" fill="none" stroke="#6cb23f" stroke-width="2.2"/>
<circle cx="823.4" cy="350.0" r="5.8" fill="#3d7a27" stroke="#fff" stroke-width="1.3"/>
<path d="M 820.8 350.1 l 1.8 1.8 l 3.2 -3.3" fill="none" stroke="#fff" stroke-width="1.4" stroke-linecap="round" stroke-linejoin="round"/>
<clipPath id="ac8166_4318"><circle cx="816.6" cy="431.8" r="12.5"/></clipPath><g clip-path="url(#ac8166_4318)"><rect x="803.6" y="418.8" width="26" height="26" fill="#f0f0f0"/><ellipse cx="816.6" cy="428.3" rx="6.2" ry="7" fill="#1e1e1e"/><ellipse cx="816.6" cy="430.3" rx="4.6" ry="5.6" fill="#b8b8b8"/><ellipse cx="816.6" cy="443.8" rx="10" ry="7" fill="#3a3a3a"/></g>
<circle cx="816.6" cy="431.8" r="13.3" fill="none" stroke="#6cb23f" stroke-width="2.2"/>
<circle cx="823.4" cy="439.5" r="5.8" fill="#3d7a27" stroke="#fff" stroke-width="1.3"/>
<path d="M 820.8 439.6 l 1.8 1.8 l 3.2 -3.3" fill="none" stroke="#fff" stroke-width="1.4" stroke-linecap="round" stroke-linejoin="round"/>
<clipPath id="ac8166_4760"><circle cx="816.6" cy="476" r="12.5"/></clipPath><g clip-path="url(#ac8166_4760)"><rect x="803.6" y="463" width="26" height="26" fill="#9aa3ab"/><ellipse cx="816.6" cy="472.5" rx="6.2" ry="7" fill="#2e2a28"/><ellipse cx="816.6" cy="474.5" rx="4.6" ry="5.6" fill="#c8906c"/><ellipse cx="816.6" cy="488" rx="10" ry="7" fill="#2d3e55"/></g>
<circle cx="816.6" cy="476.0" r="13.3" fill="none" stroke="#6cb23f" stroke-width="2.2"/>
<circle cx="823.4" cy="483.7" r="5.8" fill="#3d7a27" stroke="#fff" stroke-width="1.3"/>
<path d="M 820.8 483.8 l 1.8 1.8 l 3.2 -3.3" fill="none" stroke="#fff" stroke-width="1.4" stroke-linecap="round" stroke-linejoin="round"/>
<clipPath id="ac7655_3850"><circle cx="765.5" cy="385" r="12.5"/></clipPath><g clip-path="url(#ac7655_3850)"><rect x="752.5" y="372" width="26" height="26" fill="#6f8fb5"/><ellipse cx="765.5" cy="381.5" rx="6.2" ry="7" fill="#3a2f2a"/><ellipse cx="765.5" cy="383.5" rx="4.6" ry="5.6" fill="#d9a07c"/><ellipse cx="765.5" cy="397" rx="10" ry="7" fill="#c0392b"/></g>
<circle cx="765.5" cy="385.0" r="13.3" fill="none" stroke="#6cb23f" stroke-width="2.2"/>
<circle cx="772.3" cy="392.7" r="5.8" fill="#3d7a27" stroke="#fff" stroke-width="1.3"/>
<path d="M 769.7 392.8 l 1.8 1.8 l 3.2 -3.3" fill="none" stroke="#fff" stroke-width="1.4" stroke-linecap="round" stroke-linejoin="round"/>
<clipPath id="ac9105_3853"><circle cx="910.5" cy="385.3" r="12.5"/></clipPath><g clip-path="url(#ac9105_3853)"><rect x="897.5" y="372.3" width="26" height="26" fill="#6f8fb5"/><ellipse cx="910.5" cy="381.8" rx="6.2" ry="7" fill="#3a2f2a"/><ellipse cx="910.5" cy="383.8" rx="4.6" ry="5.6" fill="#d9a07c"/><ellipse cx="910.5" cy="397.3" rx="10" ry="7" fill="#c0392b"/></g>
<circle cx="910.5" cy="385.3" r="13.3" fill="none" stroke="#6cb23f" stroke-width="2.2"/>
<circle cx="917.3" cy="393.0" r="5.8" fill="#3d7a27" stroke="#fff" stroke-width="1.3"/>
<path d="M 914.7 393.1 l 1.8 1.8 l 3.2 -3.3" fill="none" stroke="#fff" stroke-width="1.4" stroke-linecap="round" stroke-linejoin="round"/>
<clipPath id="ac9105_4306"><circle cx="910.5" cy="430.6" r="12.5"/></clipPath><g clip-path="url(#ac9105_4306)"><rect x="897.5" y="417.6" width="26" height="26" fill="#3d3326"/><ellipse cx="910.5" cy="427.1" rx="6.2" ry="7" fill="#2a2018"/><ellipse cx="910.5" cy="429.1" rx="4.6" ry="5.6" fill="#c48a66"/><ellipse cx="910.5" cy="442.6" rx="10" ry="7" fill="#2c3646"/></g>
<circle cx="910.5" cy="430.6" r="13.3" fill="none" stroke="#6cb23f" stroke-width="2.2"/>
<circle cx="917.3" cy="438.3" r="5.8" fill="#3d7a27" stroke="#fff" stroke-width="1.3"/>
<path d="M 914.7 438.4 l 1.8 1.8 l 3.2 -3.3" fill="none" stroke="#fff" stroke-width="1.4" stroke-linecap="round" stroke-linejoin="round"/>
<clipPath id="ac9620_4306"><circle cx="962" cy="430.6" r="12.5"/></clipPath><g clip-path="url(#ac9620_4306)"><rect x="949" y="417.6" width="26" height="26" fill="#9aa3ab"/><ellipse cx="962" cy="427.1" rx="6.2" ry="7" fill="#2e2a28"/><ellipse cx="962" cy="429.1" rx="4.6" ry="5.6" fill="#c8906c"/><ellipse cx="962" cy="442.6" rx="10" ry="7" fill="#2d3e55"/></g>
<circle cx="962.0" cy="430.6" r="13.3" fill="none" stroke="#6cb23f" stroke-width="2.2"/>
<circle cx="968.8" cy="438.3" r="5.8" fill="#3d7a27" stroke="#fff" stroke-width="1.3"/>
<path d="M 966.2 438.4 l 1.8 1.8 l 3.2 -3.3" fill="none" stroke="#fff" stroke-width="1.4" stroke-linecap="round" stroke-linejoin="round"/>
<clipPath id="ac9105_4744"><circle cx="910.5" cy="474.4" r="12.5"/></clipPath><g clip-path="url(#ac9105_4744)"><rect x="897.5" y="461.4" width="26" height="26" fill="#d8d2c8"/><ellipse cx="910.5" cy="470.9" rx="6.2" ry="7" fill="#4a3428"/><ellipse cx="910.5" cy="472.9" rx="4.6" ry="5.6" fill="#e0b090"/><ellipse cx="910.5" cy="486.4" rx="10" ry="7" fill="#e58fa8"/></g>
<circle cx="910.5" cy="474.4" r="13.3" fill="none" stroke="#6cb23f" stroke-width="2.2"/>
<circle cx="917.3" cy="482.1" r="5.8" fill="#3d7a27" stroke="#fff" stroke-width="1.3"/>
<path d="M 914.7 482.2 l 1.8 1.8 l 3.2 -3.3" fill="none" stroke="#fff" stroke-width="1.4" stroke-linecap="round" stroke-linejoin="round"/>
<clipPath id="ac9620_4744"><circle cx="962" cy="474.4" r="12.5"/></clipPath><g clip-path="url(#ac9620_4744)"><rect x="949" y="461.4" width="26" height="26" fill="#3d3326"/><ellipse cx="962" cy="470.9" rx="6.2" ry="7" fill="#2a2018"/><ellipse cx="962" cy="472.9" rx="4.6" ry="5.6" fill="#c48a66"/><ellipse cx="962" cy="486.4" rx="10" ry="7" fill="#2c3646"/></g>
<circle cx="962.0" cy="474.4" r="13.3" fill="none" stroke="#6cb23f" stroke-width="2.2"/>
<circle cx="968.8" cy="482.1" r="5.8" fill="#3d7a27" stroke="#fff" stroke-width="1.3"/>
<path d="M 966.2 482.2 l 1.8 1.8 l 3.2 -3.3" fill="none" stroke="#fff" stroke-width="1.4" stroke-linecap="round" stroke-linejoin="round"/>
<clipPath id="ac10363_3853"><circle cx="1036.3" cy="385.3" r="12.5"/></clipPath><g clip-path="url(#ac10363_3853)"><rect x="1023.3" y="372.3" width="26" height="26" fill="#9aa3ab"/><ellipse cx="1036.3" cy="381.8" rx="6.2" ry="7" fill="#2e2a28"/><ellipse cx="1036.3" cy="383.8" rx="4.6" ry="5.6" fill="#c8906c"/><ellipse cx="1036.3" cy="397.3" rx="10" ry="7" fill="#2d3e55"/></g>
<circle cx="1036.3" cy="385.3" r="13.3" fill="none" stroke="#6cb23f" stroke-width="2.2"/>
<circle cx="1043.1" cy="393.0" r="5.8" fill="#3d7a27" stroke="#fff" stroke-width="1.3"/>
<path d="M 1040.5 393.1 l 1.8 1.8 l 3.2 -3.3" fill="none" stroke="#fff" stroke-width="1.4" stroke-linecap="round" stroke-linejoin="round"/>
<clipPath id="ac10878_3853"><circle cx="1087.8" cy="385.3" r="12.5"/></clipPath><g clip-path="url(#ac10878_3853)"><rect x="1074.8" y="372.3" width="26" height="26" fill="#d8d2c8"/><ellipse cx="1087.8" cy="381.8" rx="6.2" ry="7" fill="#4a3428"/><ellipse cx="1087.8" cy="383.8" rx="4.6" ry="5.6" fill="#e0b090"/><ellipse cx="1087.8" cy="397.3" rx="10" ry="7" fill="#e58fa8"/></g>
<circle cx="1087.8" cy="385.3" r="13.3" fill="none" stroke="#6cb23f" stroke-width="2.2"/>
<circle cx="1094.6" cy="393.0" r="5.8" fill="#3d7a27" stroke="#fff" stroke-width="1.3"/>
<path d="M 1092.0 393.1 l 1.8 1.8 l 3.2 -3.3" fill="none" stroke="#fff" stroke-width="1.4" stroke-linecap="round" stroke-linejoin="round"/>
<clipPath id="ac10363_4306"><circle cx="1036.3" cy="430.6" r="12.5"/></clipPath><g clip-path="url(#ac10363_4306)"><rect x="1023.3" y="417.6" width="26" height="26" fill="#f0f0f0"/><ellipse cx="1036.3" cy="427.1" rx="6.2" ry="7" fill="#1e1e1e"/><ellipse cx="1036.3" cy="429.1" rx="4.6" ry="5.6" fill="#b8b8b8"/><ellipse cx="1036.3" cy="442.6" rx="10" ry="7" fill="#3a3a3a"/></g>
<circle cx="1036.3" cy="430.6" r="13.3" fill="none" stroke="#6cb23f" stroke-width="2.2"/>
<circle cx="1043.1" cy="438.3" r="5.8" fill="#3d7a27" stroke="#fff" stroke-width="1.3"/>
<path d="M 1040.5 438.4 l 1.8 1.8 l 3.2 -3.3" fill="none" stroke="#fff" stroke-width="1.4" stroke-linecap="round" stroke-linejoin="round"/>
<clipPath id="ac10878_4306"><circle cx="1087.8" cy="430.6" r="12.5"/></clipPath><g clip-path="url(#ac10878_4306)"><rect x="1074.8" y="417.6" width="26" height="26" fill="#f0f0f0"/><ellipse cx="1087.8" cy="427.1" rx="6.2" ry="7" fill="#1e1e1e"/><ellipse cx="1087.8" cy="429.1" rx="4.6" ry="5.6" fill="#b8b8b8"/><ellipse cx="1087.8" cy="442.6" rx="10" ry="7" fill="#3a3a3a"/></g>
<circle cx="1087.8" cy="430.6" r="13.3" fill="none" stroke="#6cb23f" stroke-width="2.2"/>
<circle cx="1094.6" cy="438.3" r="5.8" fill="#3d7a27" stroke="#fff" stroke-width="1.3"/>
<path d="M 1092.0 438.4 l 1.8 1.8 l 3.2 -3.3" fill="none" stroke="#fff" stroke-width="1.4" stroke-linecap="round" stroke-linejoin="round"/>
<clipPath id="ac6527_6256"><circle cx="652.7" cy="625.6" r="12.5"/></clipPath><g clip-path="url(#ac6527_6256)"><rect x="639.7" y="612.6" width="26" height="26" fill="#f0f0f0"/><ellipse cx="652.7" cy="622.1" rx="6.2" ry="7" fill="#1e1e1e"/><ellipse cx="652.7" cy="624.1" rx="4.6" ry="5.6" fill="#b8b8b8"/><ellipse cx="652.7" cy="637.6" rx="10" ry="7" fill="#3a3a3a"/></g>
<circle cx="652.7" cy="625.6" r="13.3" fill="none" stroke="#6cb23f" stroke-width="2.2"/>
<circle cx="659.5" cy="633.3" r="5.8" fill="#3d7a27" stroke="#fff" stroke-width="1.3"/>
<path d="M 656.9 633.4 l 1.8 1.8 l 3.2 -3.3" fill="none" stroke="#fff" stroke-width="1.4" stroke-linecap="round" stroke-linejoin="round"/>
<clipPath id="ac6966_6256"><circle cx="696.6" cy="625.6" r="12.5"/></clipPath><g clip-path="url(#ac6966_6256)"><rect x="683.6" y="612.6" width="26" height="26" fill="#6f8fb5"/><ellipse cx="696.6" cy="622.1" rx="6.2" ry="7" fill="#3a2f2a"/><ellipse cx="696.6" cy="624.1" rx="4.6" ry="5.6" fill="#d9a07c"/><ellipse cx="696.6" cy="637.6" rx="10" ry="7" fill="#c0392b"/></g>
<circle cx="696.6" cy="625.6" r="13.3" fill="none" stroke="#6cb23f" stroke-width="2.2"/>
<circle cx="703.4" cy="633.3" r="5.8" fill="#3d7a27" stroke="#fff" stroke-width="1.3"/>
<path d="M 700.8 633.4 l 1.8 1.8 l 3.2 -3.3" fill="none" stroke="#fff" stroke-width="1.4" stroke-linecap="round" stroke-linejoin="round"/>
<clipPath id="ac7409_6256"><circle cx="740.9" cy="625.6" r="12.5"/></clipPath><g clip-path="url(#ac7409_6256)"><rect x="727.9" y="612.6" width="26" height="26" fill="#3d3326"/><ellipse cx="740.9" cy="622.1" rx="6.2" ry="7" fill="#2a2018"/><ellipse cx="740.9" cy="624.1" rx="4.6" ry="5.6" fill="#c48a66"/><ellipse cx="740.9" cy="637.6" rx="10" ry="7" fill="#2c3646"/></g>
<circle cx="740.9" cy="625.6" r="13.3" fill="none" stroke="#6cb23f" stroke-width="2.2"/>
<circle cx="747.7" cy="633.3" r="5.8" fill="#3d7a27" stroke="#fff" stroke-width="1.3"/>
<path d="M 745.1 633.4 l 1.8 1.8 l 3.2 -3.3" fill="none" stroke="#fff" stroke-width="1.4" stroke-linecap="round" stroke-linejoin="round"/>
<clipPath id="ac8588_5720"><circle cx="858.8" cy="572" r="12.5"/></clipPath><g clip-path="url(#ac8588_5720)"><rect x="845.8" y="559" width="26" height="26" fill="#3d3326"/><ellipse cx="858.8" cy="568.5" rx="6.2" ry="7" fill="#2a2018"/><ellipse cx="858.8" cy="570.5" rx="4.6" ry="5.6" fill="#c48a66"/><ellipse cx="858.8" cy="584" rx="10" ry="7" fill="#2c3646"/></g>
<circle cx="858.8" cy="572.0" r="13.3" fill="none" stroke="#6cb23f" stroke-width="2.2"/>
<circle cx="865.6" cy="579.7" r="5.8" fill="#3d7a27" stroke="#fff" stroke-width="1.3"/>
<path d="M 863.0 579.8 l 1.8 1.8 l 3.2 -3.3" fill="none" stroke="#fff" stroke-width="1.4" stroke-linecap="round" stroke-linejoin="round"/>
<clipPath id="ac9029_5720"><circle cx="902.9" cy="572" r="12.5"/></clipPath><g clip-path="url(#ac9029_5720)"><rect x="889.9" y="559" width="26" height="26" fill="#3d3326"/><ellipse cx="902.9" cy="568.5" rx="6.2" ry="7" fill="#2a2018"/><ellipse cx="902.9" cy="570.5" rx="4.6" ry="5.6" fill="#c48a66"/><ellipse cx="902.9" cy="584" rx="10" ry="7" fill="#2c3646"/></g>
<circle cx="902.9" cy="572.0" r="13.3" fill="none" stroke="#6cb23f" stroke-width="2.2"/>
<circle cx="909.7" cy="579.7" r="5.8" fill="#3d7a27" stroke="#fff" stroke-width="1.3"/>
<path d="M 907.1 579.8 l 1.8 1.8 l 3.2 -3.3" fill="none" stroke="#fff" stroke-width="1.4" stroke-linecap="round" stroke-linejoin="round"/>
<clipPath id="ac9470_5749"><circle cx="947" cy="574.9" r="12.5"/></clipPath><g clip-path="url(#ac9470_5749)"><rect x="934" y="561.9" width="26" height="26" fill="#d8d2c8"/><ellipse cx="947" cy="571.4" rx="6.2" ry="7" fill="#4a3428"/><ellipse cx="947" cy="573.4" rx="4.6" ry="5.6" fill="#e0b090"/><ellipse cx="947" cy="586.9" rx="10" ry="7" fill="#e58fa8"/></g>
<circle cx="947.0" cy="574.9" r="13.3" fill="none" stroke="#6cb23f" stroke-width="2.2"/>
<circle cx="953.8" cy="582.6" r="5.8" fill="#3d7a27" stroke="#fff" stroke-width="1.3"/>
<path d="M 951.2 582.7 l 1.8 1.8 l 3.2 -3.3" fill="none" stroke="#fff" stroke-width="1.4" stroke-linecap="round" stroke-linejoin="round"/>
<clipPath id="ac9470_6273"><circle cx="947" cy="627.3" r="12.5"/></clipPath><g clip-path="url(#ac9470_6273)"><rect x="934" y="614.3" width="26" height="26" fill="#3d3326"/><ellipse cx="947" cy="623.8" rx="6.2" ry="7" fill="#2a2018"/><ellipse cx="947" cy="625.8" rx="4.6" ry="5.6" fill="#c48a66"/><ellipse cx="947" cy="639.3" rx="10" ry="7" fill="#2c3646"/></g>
<circle cx="947.0" cy="627.3" r="13.3" fill="none" stroke="#6cb23f" stroke-width="2.2"/>
<circle cx="953.8" cy="635.0" r="5.8" fill="#3d7a27" stroke="#fff" stroke-width="1.3"/>
<path d="M 951.2 635.1 l 1.8 1.8 l 3.2 -3.3" fill="none" stroke="#fff" stroke-width="1.4" stroke-linecap="round" stroke-linejoin="round"/>
<circle cx="1087.8" cy="474.4" r="12.5" fill="#5a2fb0"/>
<text x="1086.8" y="480.4" font-size="16" fill="#d9d0f0" text-anchor="middle" font-family="Liberation Sans">M</text>
<circle cx="1087.8" cy="474.4" r="13.3" fill="none" stroke="#6cb23f" stroke-width="2.2"/>
<circle cx="1094.6" cy="482.1" r="5.8" fill="#3d7a27" stroke="#fff" stroke-width="1.3"/>
<path d="M 1092.0 482.2 l 1.8 1.8 l 3.2 -3.3" fill="none" stroke="#fff" stroke-width="1.4" stroke-linecap="round" stroke-linejoin="round"/>
<rect x="625.5" y="380" width="64.0" height="29.5" rx="14.8" fill="#fdf0f5" stroke="#bf3d7e" stroke-width="1.5" filter="url(#sh)"/>
<text x="657.5" y="399.9" font-size="14.3" fill="#b7367a" text-anchor="middle" font-family="Liberation Sans">Pulsar</text>
<rect x="748.5" y="380" width="84.5" height="29.5" rx="14.8" fill="#eff8f8" stroke="#347f87" stroke-width="1.5" filter="url(#sh)"/>
<text x="790.8" y="399.9" font-size="14.7" fill="#2b7880" text-anchor="middle" font-family="Liberation Sans">Star Dust</text>
<rect x="902.5" y="399.5" width="68.0" height="30.0" rx="15.0" fill="#f0f5fb" stroke="#3a75b8" stroke-width="1.5" filter="url(#sh)"/>
<text x="936.5" y="419.7" font-size="15" fill="#2f6cb3" text-anchor="middle" font-family="Liberation Sans">Comet</text>
<rect x="1027.5" y="399.5" width="69.5" height="30.0" rx="15.0" fill="#f7f1fa" stroke="#7d4cb3" stroke-width="1.5" filter="url(#sh)"/>
<text x="1062.2" y="419.7" font-size="14.7" fill="#6d3da6" text-anchor="middle" font-family="Liberation Sans">Meteor</text>
<rect x="658" y="568.5" width="77.5" height="30.5" rx="15.2" fill="#fff8ed" stroke="#c07f2c" stroke-width="1.5" filter="url(#sh)"/>
<text x="696.8" y="589.0" font-size="14.9" fill="#b56b12" text-anchor="middle" font-family="Liberation Sans">Asteroid</text>
<rect x="833.5" y="569.5" width="94.5" height="31.0" rx="15.5" fill="#fff4ef" stroke="#c95a23" stroke-width="1.5" filter="url(#sh)"/>
<text x="880.8" y="590.2" font-size="14.4" fill="#c24f14" text-anchor="middle" font-family="Liberation Sans">Supernova</text>
<ellipse cx="779.5" cy="477.5" rx="6.5" ry="2.8" fill="#000" fill-opacity="0.12"/>
<path d="M 779.5 476 C 775.2 470.5 770.7 467 770.7 462 A 8.8 8.8 0 0 1 788.3 462 C 788.3 467 783.8 470.5 779.5 476 Z" fill="#f0134d" stroke="#fff" stroke-width="1"/>
<circle cx="779.5" cy="461.5" r="2.8" fill="#f8c0cf"/>
<text x="697.5" y="468.6" font-size="12.7" font-weight="bold" fill="#f2336b" stroke="#f4f5f7" stroke-width="1.5" paint-order="stroke" font-family="Liberation Sans">Your desk</text>
<circle cx="797.8" cy="597.2" r="10.6" fill="#fff"/>
<circle cx="797.8" cy="597.2" r="9.6" fill="#4d37c1"/>
<rect x="792.8" y="592.7" width="10" height="7" rx="1" fill="#fff"/><rect x="795.3" y="600.7" width="5" height="1.5" fill="#fff"/>
<circle cx="799.0" cy="680.7" r="10.6" fill="#fff"/>
<circle cx="799.0" cy="680.7" r="9.6" fill="#4d37c1"/>
<path d="M 799.0 675.2 a 5.5 5.5 0 1 0 0 11 q 1.5 0 1 -1.5 q -0.8 -1.8 1 -2 h 2 q 2 0 2 -2.2 q 0 -5.3 -6 -5.3 z" fill="#fff"/><circle cx="796.5" cy="679.2" r="0.9" fill="#4d37c1"/><circle cx="799.0" cy="677.7" r="0.9" fill="#4d37c1"/><circle cx="801.5" cy="678.7" r="0.9" fill="#4d37c1"/>
<circle cx="775.4" cy="709.8" r="10.6" fill="#fff"/>
<circle cx="775.4" cy="709.8" r="9.6" fill="#4d37c1"/>
<rect x="770.4" y="705.3" width="10" height="7" rx="1" fill="#fff"/><rect x="772.9" y="713.3" width="5" height="1.5" fill="#fff"/>
<circle cx="745.2" cy="722.8" r="10.6" fill="#fff"/>
<circle cx="745.2" cy="722.8" r="9.6" fill="#4d37c1"/>
<rect x="740.2" y="718.3" width="10" height="7" rx="1" fill="#fff"/><rect x="742.7" y="726.3" width="5" height="1.5" fill="#fff"/>
<circle cx="662.9" cy="819.4" r="10.6" fill="#fff"/>
<circle cx="662.9" cy="819.4" r="9.6" fill="#4d37c1"/>
<rect x="657.9" y="815.4" width="10" height="9" fill="none" stroke="#fff" stroke-width="1.3"/><rect x="658.9" y="819.9" width="8" height="2.5" fill="#fff"/><path d="M 660.4 813.9 v 2.5 M 665.4 813.9 v 2.5" stroke="#fff" stroke-width="1.2"/>
<circle cx="709.8" cy="832.5" r="10.6" fill="#fff"/>
<circle cx="709.8" cy="832.5" r="9.6" fill="#4d37c1"/>
<circle cx="707.3" cy="828.0" r="1.5" fill="#fff"/><path d="M 705.8 830.0 h 2.5 l 1 3.5 h 2 v 2 h -3.5 l -1 -2.5 v 3.5 h -1.5 z" fill="#fff"/><circle cx="712.8" cy="833.5" r="2.2" fill="#fff"/><rect x="704.8" y="836.5" width="10" height="1.2" fill="#fff"/>
<circle cx="709.8" cy="853.0" r="10.6" fill="#fff"/>
<circle cx="709.8" cy="853.0" r="9.6" fill="#4d37c1"/>
<path d="M 708.0 849.2 a 1.8 1.8 0 1 1 1.8 2 v 1.3 l 5.5 4 h -11 l 5.5 -4" fill="none" stroke="#fff" stroke-width="1.2" stroke-linejoin="round"/>
<circle cx="747.9" cy="864.4" r="10.6" fill="#fff"/>
<circle cx="747.9" cy="864.4" r="9.6" fill="#4d37c1"/>
<path d="M 746.9 859.4 h 6 v 10 h -6 v -2 h 4 v -6 h -4 z" fill="#fff"/><path d="M 742.4 863.4 h 4 v -2.2 l 3 3.2 l -3 3.2 v -2.2 h -4 z" fill="#fff"/>
<circle cx="747.9" cy="897.9" r="10.6" fill="#fff"/>
<circle cx="747.9" cy="897.9" r="9.6" fill="#4d37c1"/>
<path d="M 747.9 891.9 l 3.5 4 h -7 z M 747.9 903.9 l 3.5 -4 h -7 z" fill="#fff"/>
<circle cx="747.9" cy="932.6" r="10.6" fill="#fff"/>
<circle cx="747.9" cy="932.6" r="9.6" fill="#4d37c1"/>
<circle cx="747.9" cy="928.8" r="1.8" fill="#fff"/><path d="M 745.9 931.1 h 4 l 1.3 4 h -1.8 v 3 h -3 v -3 h -1.8 z" fill="#fff"/>
<circle cx="747.9" cy="969.3" r="10.6" fill="#fff"/>
<circle cx="747.9" cy="969.3" r="9.6" fill="#4d37c1"/>
<circle cx="747.9" cy="965.5" r="1.8" fill="#fff"/><path d="M 745.6 967.8 h 4.6 v 4 h -1 v 3 h -2.6 v -3 h -1 z" fill="#fff"/>
<circle cx="1055.0" cy="805.4" r="10.6" fill="#fff"/>
<circle cx="1055.0" cy="805.4" r="9.6" fill="#4d37c1"/>
<path d="M 1051.5 800.4 v 3.5 q 0 1.5 1.2 1.8 v 4.7 h 1.4 v -4.7 q 1.2 -0.3 1.2 -1.8 v -3.5 h -0.9 v 3 h -0.6 v -3 h -0.8 v 3 h -0.6 v -3 z M 1057.0 800.4 q 2 1 2 4 h -0.8 v 6 h -1.4 z" fill="#fff"/>
<circle cx="1009.0" cy="847.6" r="10.6" fill="#fff"/>
<circle cx="1009.0" cy="847.6" r="9.6" fill="#4d37c1"/>
<rect x="1004.0" y="845.6" width="10" height="5" rx="1.5" fill="none" stroke="#fff" stroke-width="1.4"/><path d="M 1006.0 843.1 h 5 l 1 2" fill="none" stroke="#fff" stroke-width="1.3"/>
<circle cx="1039.3" cy="847.6" r="10.6" fill="#fff"/>
<circle cx="1039.3" cy="847.6" r="9.6" fill="#4d37c1"/>
<rect x="1035.8" y="845.6" width="6" height="7" rx="1" fill="#fff"/><rect x="1037.3" y="842.6" width="3" height="3" fill="#fff"/><circle cx="1043.3" cy="848.6" r="1.3" fill="#fff"/>
<circle cx="1107.5" cy="851.4" r="10.6" fill="#fff"/>
<circle cx="1107.5" cy="851.4" r="9.6" fill="#4d37c1"/>
<path d="M 1103.5 848.9 h 6.5 v 4 a 3 3 0 0 1 -6.5 0 z" fill="#fff"/><circle cx="1111.0" cy="850.9" r="1.6" fill="none" stroke="#fff" stroke-width="1"/>
<circle cx="1095.1" cy="851.4" r="10.6" fill="#fff"/>
<circle cx="1095.1" cy="851.4" r="9.6" fill="#4d37c1"/>
<path d="M 1095.1 845.9 q 4 4.5 4 7 a 4 4 0 0 1 -8 0 q 0 -2.5 4 -7 z" fill="#fff"/>
<circle cx="1171.3" cy="864.5" r="10.6" fill="#fff"/>
<circle cx="1171.3" cy="864.5" r="9.6" fill="#4d37c1"/>
<path d="M 1170.3 859.5 h 6 v 10 h -6 v -2 h 4 v -6 h -4 z" fill="#fff"/><path d="M 1165.8 863.5 h 4 v -2.2 l 3 3.2 l -3 3.2 v -2.2 h -4 z" fill="#fff"/>
<circle cx="1171.7" cy="895.4" r="10.6" fill="#fff"/>
<circle cx="1171.7" cy="895.4" r="9.6" fill="#4d37c1"/>
<path d="M 1171.7 889.4 l 3.5 4 h -7 z M 1171.7 901.4 l 3.5 -4 h -7 z" fill="#fff"/>
<circle cx="1171.7" cy="929.2" r="10.6" fill="#fff"/>
<circle cx="1171.7" cy="929.2" r="9.6" fill="#4d37c1"/>
<circle cx="1171.7" cy="925.4" r="1.8" fill="#fff"/><path d="M 1169.7 927.7 h 4 l 1.3 4 h -1.8 v 3 h -3 v -3 h -1.8 z" fill="#fff"/>
<circle cx="1171.7" cy="966.9" r="10.6" fill="#fff"/>
<circle cx="1171.7" cy="966.9" r="9.6" fill="#4d37c1"/>
<circle cx="1171.7" cy="963.1" r="1.8" fill="#fff"/><path d="M 1169.4 965.4 h 4.6 v 4 h -1 v 3 h -2.6 v -3 h -1 z" fill="#fff"/>
<circle cx="1127.6" cy="572.4" r="10.6" fill="#fff"/>
<circle cx="1127.6" cy="572.4" r="9.6" fill="#4d37c1"/>
<rect x="1123.1" y="571.4" width="9" height="5" fill="#fff"/><rect x="1124.6" y="567.4" width="6" height="5" fill="none" stroke="#fff" stroke-width="1.2"/>
<circle cx="1151.5" cy="572.4" r="10.6" fill="#fff"/>
<circle cx="1151.5" cy="572.4" r="9.6" fill="#4d37c1"/>
<rect x="1146.5" y="569.4" width="10" height="4" rx="1" fill="#fff"/><rect x="1148.5" y="567.4" width="6" height="2" fill="#fff"/><path d="M 1147.5 573.9 v 3.5 M 1149.5 573.9 v 3.5 M 1151.5 573.9 v 3.5 M 1153.5 573.9 v 3.5 M 1155.5 573.9 v 3.5" stroke="#fff" stroke-width="1"/>
<circle cx="1127.2" cy="630.6" r="10.6" fill="#fff"/>
<circle cx="1127.2" cy="630.6" r="9.6" fill="#4d37c1"/>
<path d="M 1122.7 627.1 h 9 v 1.3 h -9 z M 1123.4 629.1 h 7.6 l -0.8 6.5 h -6 z M 1125.7 625.6 h 3 v 1 h -3 z" fill="#fff"/>
<circle cx="1302.2" cy="511.1" r="10.6" fill="#fff"/>
<circle cx="1302.2" cy="511.1" r="9.6" fill="#4d37c1"/>
<rect x="1297.2" y="506.6" width="10" height="7" rx="1" fill="#fff"/><rect x="1299.7" y="514.6" width="5" height="1.5" fill="#fff"/>
<circle cx="1313.4" cy="435.9" r="10.6" fill="#fff"/>
<circle cx="1313.4" cy="435.9" r="9.6" fill="#4d37c1"/>
<path d="M 1308.9 431.4 q 1.5 -1 2.5 0 l 1 2 q 0.3 1 -0.8 1.6 q 0.8 2.3 3 3.2 q 0.6 -1 1.6 -0.8 l 2 1 q 1 1 0 2.5 q -1.5 1.5 -4 0.5 q -4 -2 -5.8 -5.8 q -1 -2.5 0.5 -4.2 z" fill="#fff"/>
<circle cx="1313.4" cy="469.0" r="10.6" fill="#fff"/>
<circle cx="1313.4" cy="469.0" r="9.6" fill="#4d37c1"/>
<path d="M 1308.9 464.5 q 1.5 -1 2.5 0 l 1 2 q 0.3 1 -0.8 1.6 q 0.8 2.3 3 3.2 q 0.6 -1 1.6 -0.8 l 2 1 q 1 1 0 2.5 q -1.5 1.5 -4 0.5 q -4 -2 -5.8 -5.8 q -1 -2.5 0.5 -4.2 z" fill="#fff"/>
<circle cx="1436.2" cy="729.9" r="10.6" fill="#fff"/>
<circle cx="1436.2" cy="729.9" r="9.6" fill="#4d37c1"/>
<circle cx="1435.2" cy="728.4" r="3.8" fill="#fff"/><path d="M 1433.2 731.4 l -2.5 3" stroke="#fff" stroke-width="1.6"/><circle cx="1439.7" cy="733.4" r="1.5" fill="#fff"/>
<circle cx="954.9" cy="680.4" r="10.6" fill="#fff"/>
<circle cx="954.9" cy="680.4" r="9.6" fill="#a10d12"/>
<rect x="949.9" y="677.4" width="10" height="8" rx="1.2" fill="#fff"/><rect x="952.9" y="675.2" width="4" height="2.5" fill="none" stroke="#fff" stroke-width="1"/><path d="M 954.9 679.4 v 4 M 952.9 681.4 h 4" stroke="#a10d12" stroke-width="1.2"/>
<circle cx="1001.4" cy="765.7" r="10.6" fill="#fff"/>
<circle cx="1001.4" cy="765.7" r="9.6" fill="#a10d12"/>
<rect x="998.9" y="763.7" width="5" height="7.5" rx="1.5" fill="#fff"/><path d="M 1000.4 761.2 h 2 v 2.5 h -2 z M 1002.4 761.2 l 3.5 -1 v 2 z M 999.4 761.7 l -2.5 2" fill="#fff" stroke="#fff" stroke-width="0.8"/>
</svg></div>
<div class="a" style="left:1618px;top:1px;width:305.00px;height:1078.00px;background:#fff"></div>
<div class="a" style="left:1617px;top:1px;width:1.00px;height:118.00px;background:#e9ebee"></div>
<svg class="a" style="left:18px;top:14px" width="40" height="40" viewBox="18 14 40 40"><rect x="34.2" y="28.4" width="11.6" height="11.6" rx="2.2" fill="#fff"/>
<g fill="#fff"><circle cx="35.7" cy="21.6" r="3.3"/><circle cx="44.4" cy="21.6" r="3.3"/>
<circle cx="27.4" cy="29.8" r="3.3"/><circle cx="27.4" cy="38.6" r="3.3"/>
<circle cx="52.3" cy="29.8" r="3.3"/><circle cx="52.3" cy="38.6" r="3.3"/>
<circle cx="35.7" cy="46.8" r="3.3"/><circle cx="44.4" cy="46.8" r="3.3"/></g></svg>
<div class="a" style="left:8px;top:69px;width:199.00px;height:37.00px;background:#2a75c3;border-radius:7px"></div>
<svg class="a" style="left:28px;top:78px" width="18" height="20" viewBox="28 78 18 20"><path d="M36.2 94 C33.5 90.5 31.3 88.3 31.3 85.8 A4.9 4.9 0 0 1 41.1 85.8 C41.1 88.3 38.9 90.5 36.2 94 Z" fill="#fff"/><circle cx="36.4" cy="86" r="1.7" fill="#2a75c3"/></svg>
<svg class="a" style="left:28px;top:118px" width="18" height="20" viewBox="28 118 18 20"><rect x="30.8" y="124" width="11.2" height="2.6" fill="#b4b9c2"/><rect x="30.8" y="127.5" width="11.2" height="7.7" rx="0.8" fill="#b4b9c2"/><rect x="32.9" y="121.5" width="1.6" height="3" fill="#b4b9c2"/><rect x="38.2" y="121.5" width="1.6" height="3" fill="#b4b9c2"/></svg>
<svg class="a" style="left:27px;top:159px" width="18" height="18" viewBox="27 159 18 18"><g fill="#b4b9c2"><circle cx="32.2" cy="164.3" r="1.9"/><circle cx="40.5" cy="164.3" r="1.9"/><path d="M29 169.5 q0 -2.8 3.2 -2.8 q2.4 0 3 1.8 v1 z"/><path d="M43.2 169.5 q0 -2.8 -3.2 -2.8 q-2.4 0 -3 1.8 v1 z"/><circle cx="36.4" cy="167" r="2.1"/><path d="M32 174.1 q0.5 -4.3 4.4 -4.3 q3.9 0 4.4 4.3 z"/></g></svg>
<svg class="a" style="left:27px;top:200px" width="18" height="18" viewBox="27 200 18 18"><g fill="#fff"><path d="M31 202.9 l6.7 -0.6 v13.3 h-8.6 v-1.5 h1.9 z"/><path d="M38.8 204.1 h2.7 l0.8 1 v9.5 h0.9 v1.3 h-2.6 v-10.5 h-1.8 z"/></g><circle cx="34.8" cy="209.2" r="0.8" fill="#02102c"/></svg>
<svg class="a" style="left:27px;top:240px" width="18" height="18" viewBox="27 240 18 18"><path d="M30.5 243.3 v9.6 q0 1.2 1.2 1.2 h10.8" fill="none" stroke="#b4b9c2" stroke-width="1.6" stroke-linecap="round"/><path d="M32.8 250 l3.2 -3.3 l2.3 2 l3.5 -3.6" fill="none" stroke="#b4b9c2" stroke-width="1.6" stroke-linecap="round" stroke-linejoin="round"/></svg>
<svg class="a" style="left:27px;top:280px" width="18" height="18" viewBox="27 280 18 18"><path d="M31.3 283 h9.7 v13.4 h-3.7 v-3.3 h-2.3 v3.3 h-3.7 z" fill="#b4b9c2"/><g fill="#02102c"><rect x="33.2" y="285.8" width="1.3" height="1.3"/><rect x="35.6" y="285.8" width="1.3" height="1.3"/><rect x="38" y="285.8" width="1.3" height="1.3"/><rect x="33.2" y="289" width="1.3" height="1.3"/><rect x="35.6" y="289" width="1.3" height="1.3"/><rect x="38" y="289" width="1.3" height="1.3"/></g></svg>
<svg class="a" style="left:180px;top:284px" width="14" height="10" viewBox="180 284 14 10"><path d="M182.5 287 l3.8 3.6 l3.8 -3.6" fill="none" stroke="#c5cad3" stroke-width="1.3"/></svg>
<div class="a" style="left:5px;top:964px;width:206.00px;height:1.00px;background:#2c2f36"></div>
<div class="a" style="left:5px;top:965px;width:206.00px;height:114.00px;background:#020f2e"></div>
<svg class="a" style="left:28px;top:978px" width="16" height="16" viewBox="28 978 16 16"><circle cx="36.2" cy="985.5" r="6.4" fill="#b4b9c2"/><path d="M34.3 983.8 q0 -2 1.9 -2 q1.9 0 1.9 1.8 q0 1.2 -1.5 1.8 v1" fill="none" stroke="#02102c" stroke-width="1.2"/><circle cx="36.5" cy="988.3" r="0.8" fill="#02102c"/></svg>
<svg class="a" style="left:28px;top:1018px" width="16" height="16" viewBox="28 1018 16 16"><path d="M36.2 1020.5 q6.4 0 6.4 4.6 q0 4.6 -6.4 4.6 q-1.3 0 -2.3 -0.3 l-3.3 1.8 l0.9 -2.7 q-1.7 -1.3 -1.7 -3.4 q0 -4.6 6.4 -4.6 z" fill="#b4b9c2"/><g fill="#02102c"><circle cx="33.6" cy="1025" r="0.8"/><circle cx="36.2" cy="1025" r="0.8"/><circle cx="38.8" cy="1025" r="0.8"/></g></svg>
<svg class="a" style="left:29px;top:1055px" width="25" height="25" viewBox="29 1055 25 25"><defs><clipPath id="avc"><circle cx="41.5" cy="1067.4" r="11.7"/></clipPath></defs>
<circle cx="41.5" cy="1067.4" r="11.7" fill="#f4f4f4"/><g clip-path="url(#avc)"><ellipse cx="41.5" cy="1064" rx="4.3" ry="5.2" fill="#c98f6e"/><path d="M37.2 1062 q4.3 -6 8.6 0 q0 -3.5 -4.3 -3.8 q-4.3 0.3 -4.3 3.8z" fill="#8b5a3a"/><path d="M38 1066 q3.5 5 7 0 v2 q-3.5 3 -7 0z" fill="#b0704a"/><path d="M31 1080 q1 -8 10.5 -8.5 q9.5 0.5 10.5 8.5z" fill="#5aa86a"/></g></svg>
<svg class="a" style="left:183px;top:1063px" width="10" height="12" viewBox="183 1063 10 12"><path d="M186.5 1065 l3.5 3.6 l-3.5 3.6" fill="none" stroke="#c5cad3" stroke-width="1.3"/></svg>
<div class="a" style="left:5px;top:1078px;width:206.00px;height:1.00px;background:#000"></div>
<svg class="a" style="left:0;top:0" width="1928" height="1088"><g stroke="#d8d8d8" stroke-width="1.6"><path d="M0.8 3 V1080" stroke-dasharray="2 9 1 6 3 11 1 7"/><path d="M1927.2 3 V1080" stroke-dasharray="3 8 1 5 2 12 1 6"/><path d="M30 1087.2 H1928" stroke-dasharray="3 14 2 9 5 20 1 11"/></g></svg>
<div class="a" style="left:233px;top:68px;width:162.00px;height:29.00px;border:1px solid #8c8c8c;border-radius:4px;box-sizing:border-box;background:#fff"></div>
<div class="a" style="left:402px;top:68px;width:143.00px;height:29.00px;border:1px solid #8c8c8c;border-radius:4px;box-sizing:border-box;background:#fff"></div>
<div class="a" style="left:553px;top:68px;width:121.00px;height:29.00px;border:1px solid #8c8c8c;border-radius:4px;box-sizing:border-box;background:#fff"></div>
<div class="a" style="left:681px;top:68px;width:89.00px;height:29.00px;border:1px solid #8c8c8c;border-radius:4px;box-sizing:border-box;background:#fff"></div>
<div class="a" style="left:882px;top:68px;width:31.00px;height:29.00px;border:1px solid #dcdcdc;border-radius:4px;box-sizing:border-box;background:#fff"></div>
<svg class="a" style="left:370px;top:76px" width="16" height="12" viewBox="370 76 16 12"><path d="M374.5 79.5 l4.5 5 l4.5 -5" fill="none" stroke="#888" stroke-width="1"/></svg>
<svg class="a" style="left:521px;top:76px" width="16" height="12" viewBox="521 76 16 12"><path d="M525.5 79.5 l4.5 5 l4.5 -5" fill="none" stroke="#888" stroke-width="1"/></svg>
<svg class="a" style="left:648px;top:74px" width="16" height="16" viewBox="648 74 16 16"><rect x="650.7" y="77.7" width="10.6" height="10" rx="1" fill="none" stroke="#aaa" stroke-width="1"/><path d="M650.7 80.6 h10.6 M653.5 76.5 v2.4 M658.5 76.5 v2.4" stroke="#aaa" stroke-width="1"/></svg>
<svg class="a" style="left:746px;top:74px" width="16" height="16" viewBox="746 74 16 16"><circle cx="754" cy="82.3" r="5" fill="none" stroke="#aaa" stroke-width="1"/><path d="M754 79.3 v3.3 l2 1.6" fill="none" stroke="#aaa" stroke-width="1"/></svg>
<svg class="a" style="left:790px;top:76px" width="12" height="12" viewBox="790 76 12 12"><path d="M797 78 v9 M792.5 82.5 h9" stroke="#333" stroke-width="1.2"/></svg>
<svg class="a" style="left:888px;top:74px" width="18" height="18" viewBox="888 74 18 18"><path d="M901.5 82.5 a4.7 4.7 0 1 1 -1.6 -3.6" fill="none" stroke="#222" stroke-width="1.5"/><path d="M898.8 77 l3.4 0.4 l-0.6 3.6 z" fill="#222"/></svg>
<div class="a" style="left:225px;top:135px;width:78.00px;height:29.00px;background:#fff;border-radius:4px"></div>
<div class="a" style="left:310px;top:135px;width:85.00px;height:29.00px;background:#fff;border-radius:4px"></div>
<div class="a" style="left:403px;top:135px;width:131.00px;height:29.00px;background:#fff;border-radius:4px"></div>
<div class="a" style="left:541px;top:135px;width:88.00px;height:29.00px;background:#fff;border-radius:4px"></div>
<svg class="a" style="left:235px;top:141px" width="16" height="16" viewBox="235 141 16 16"><g fill="#333"><path d="M240 143 h6 q0.8 0 0.8 0.8 v4.7 h-7.6 v-4.7 q0 -0.8 0.8 -0.8z"/><rect x="237.6" y="145.5" width="1.3" height="3.2" rx="0.6"/><rect x="247.2" y="145.5" width="1.3" height="3.2" rx="0.6"/><rect x="238.3" y="149.5" width="9.5" height="2" rx="0.8"/><rect x="242.3" y="151.5" width="1.5" height="3"/><rect x="240.3" y="154.2" width="5.5" height="1.3" rx="0.6"/></g></svg>
<svg class="a" style="left:319px;top:141px" width="18" height="16" viewBox="319 141 18 16"><g fill="#333"><path d="M322 143.5 l6 -0.6 v12.5 h-7 v-1.3 h1 z"/><path d="M329.5 144.5 h2.6 l0.8 1 v8.8 h0.9 v1.3 h-2.4 v-9.8 h-1.9 z"/></g><circle cx="326" cy="149.5" r="0.7" fill="#fff"/></svg>
<svg class="a" style="left:412px;top:143px" width="14" height="14" viewBox="412 143 14 14"><g fill="#333"><rect x="413.9" y="145" width="3.8" height="3.8" rx="0.6"/><rect x="419.5" y="145" width="3.8" height="3.8" rx="0.6"/><rect x="413.9" y="150.5" width="3.8" height="3.8" rx="0.6"/><rect x="419.5" y="150.5" width="3.8" height="3.8" rx="0.6"/></g></svg>
<svg class="a" style="left:551px;top:142px" width="16" height="16" viewBox="551 142 16 16"><g fill="#333"><rect x="553" y="145" width="3" height="9.5"/><rect x="557.5" y="145" width="3" height="9.5"/><rect x="562" y="145" width="3" height="9.5"/></g><g fill="#fff"><rect x="554.6" y="150" width="1.5" height="1.2"/><rect x="559.1" y="150" width="1.5" height="1.2"/><rect x="563.6" y="150" width="1.5" height="1.2"/></g></svg>
<div class="a" style="left:1583px;top:128px;width:26.00px;height:81.00px;background:#fff;border-radius:4px;box-shadow:0 0 0 1.2px rgba(0,0,0,0.12)"></div>
<div class="a" style="left:1583px;top:155.5px;width:26.00px;height:1.00px;background:#e2e2e2"></div>
<div class="a" style="left:1583px;top:182px;width:26.00px;height:1.00px;background:#e2e2e2"></div>
<svg class="a" style="left:1588px;top:134px" width="16" height="16" viewBox="1588 134 16 16"><path d="M1596 137 v10 M1591 142 h10" stroke="#222" stroke-width="2"/></svg>
<svg class="a" style="left:1588px;top:162px" width="16" height="14" viewBox="1588 162 16 14"><path d="M1591 169.5 h10" stroke="#222" stroke-width="2"/></svg>
<svg class="a" style="left:1588px;top:186px" width="16" height="20" viewBox="1588 186 16 20"><path d="M1595.9 188.4 l3.4 7 h-6.8 z" fill="#333"/><path d="M1595.9 204.4 l3.4 -7 h-6.8 z" fill="#cfcfcf"/></svg>
<div class="a" style="left:1583px;top:218px;width:26.00px;height:27.00px;background:#fff;border-radius:4px"></div>
<svg class="a" style="left:1588px;top:223px" width="16" height="16" viewBox="1588 223 16 16"><g transform="translate(1596 231.5)"><circle r="3.6" fill="none" stroke="#111" stroke-width="2.6"/><g fill="#111"><rect x="-1.2" y="-5.8" width="2.4" height="2.5"/><rect x="-1.2" y="-5.8" width="2.4" height="2.5" transform="rotate(60)"/><rect x="-1.2" y="-5.8" width="2.4" height="2.5" transform="rotate(120)"/><rect x="-1.2" y="-5.8" width="2.4" height="2.5" transform="rotate(180)"/><rect x="-1.2" y="-5.8" width="2.4" height="2.5" transform="rotate(240)"/><rect x="-1.2" y="-5.8" width="2.4" height="2.5" transform="rotate(300)"/></g></g></svg>
<div class="a" style="left:198px;top:1010px;width:26px;height:26px;border-radius:50%;background:#1f1f1f;border:1px solid #3b3b3b;box-sizing:border-box;box-shadow:0 1px 3px rgba(0,0,0,0.35)"></div>
<svg class="a" style="left:204px;top:1016px" width="14" height="14" viewBox="204 1016 14 14"><path d="M212.8 1020 l-3.3 3.3 l3.3 3.3" fill="none" stroke="#fff" stroke-width="1.3"/></svg>
<svg class="a" style="left:1886px;top:20px" width="18" height="18" viewBox="1886 20 18 18"><path d="M1889.8 23.2 l11 11 M1900.8 23.2 l-11 11" stroke="#222" stroke-width="1.5"/></svg>
<div class="a" style="left:1618px;top:59px;width:305.00px;height:1.00px;background:#eaeaea"></div>
<div class="a" style="left:1632px;top:102px;width:278.00px;height:91.00px;border:1px solid #d8d8d8;border-radius:7px;box-sizing:border-box"></div>
<svg class="a" style="left:1877px;top:122px" width="16" height="6" viewBox="1877 122 16 6"><g fill="#444"><circle cx="1880.5" cy="125.5" r="1.1"/><circle cx="1885" cy="125.5" r="1.1"/><circle cx="1889.5" cy="125.5" r="1.1"/></g></svg>
<div class="a" style="left:1644.2px;top:147px;width:28.30px;height:28.80px;background:#efefef;border-radius:4px"></div>
<svg class="a" style="left:1648px;top:150px" width="24" height="24" viewBox="1648 150 24 24"><g fill="#6b6b6b"><path d="M1655.2 152.9 h6.5 q0.8 0 0.8 0.8 v6.5 h-8.1 v-6.5 q0 -0.8 0.8 -0.8z"/><rect x="1651" y="157" width="1.7" height="4" rx="0.8"/><rect x="1663.7" y="157" width="1.7" height="4" rx="0.8"/><rect x="1652.2" y="162" width="11.8" height="2.6" rx="1"/><rect x="1657.5" y="164.6" width="1.7" height="3.5"/><rect x="1655.2" y="167.8" width="6.2" height="1.6" rx="0.8"/></g></svg>
<svg class="a" style="left:1664px;top:161px" width="14" height="14" viewBox="1664 161 14 14"><circle cx="1671.4" cy="168.3" r="6" fill="#fff"/><circle cx="1671.4" cy="168.3" r="4.7" fill="#2f6e12"/><path d="M1669.2 168.3 l1.5 1.5 l2.8 -2.8" fill="none" stroke="#fff" stroke-width="1.1"/></svg>
<div class="a" style="left:1632px;top:228px;width:278.00px;height:103.00px;border:1px solid #e3e3e3;border-radius:7px;box-sizing:border-box"></div>
<div class="a" style="left:1648px;top:278.8px;width:32.20px;height:32.70px;background:#f5f5f5;border-radius:4px"></div>
<svg class="a" style="left:1655px;top:287px" width="20" height="18" viewBox="1655 287 20 18"><g fill="#a3a3a3"><rect x="1658.2" y="290" width="2.8" height="11"/><rect x="1662.5" y="290" width="2.8" height="11"/><rect x="1666.8" y="290" width="2.8" height="11"/></g><g fill="#f5f5f5"><rect x="1659.5" y="295.8" width="1.5" height="1.2"/><rect x="1663.8" y="295.8" width="1.5" height="1.2"/><rect x="1668.1" y="295.8" width="1.5" height="1.2"/></g></svg>
<svg class="a" style="left:1671px;top:296px" width="14" height="14" viewBox="1671 296 14 14"><circle cx="1678.4" cy="303.8" r="6" fill="#fff"/><circle cx="1678.4" cy="303.8" r="4.7" fill="#6e9b58"/><path d="M1676.2 303.8 l1.5 1.5 l2.8 -2.8" fill="none" stroke="#fff" stroke-width="1.1"/></svg>
<div class="a" style="left:1632px;top:374px;width:278.00px;height:158.00px;border:1px solid #d8d8d8;border-radius:7px;box-sizing:border-box"></div>
<svg class="a" style="left:1873px;top:398px" width="16" height="6" viewBox="1873 398 16 6"><g fill="#444"><circle cx="1876.5" cy="401" r="1.1"/><circle cx="1881" cy="401" r="1.1"/><circle cx="1885.5" cy="401" r="1.1"/></g></svg>
<svg class="a" style="left:1648px;top:444px" width="90" height="24" viewBox="1648 444 90 24"><circle cx="1660.0" cy="456.5" r="10.9" fill="#fff"/><clipPath id="pc16504560"><circle cx="1660.0" cy="456.5" r="10.0"/></clipPath><g clip-path="url(#pc16504560)"><rect x="1650.0" y="446.5" width="20" height="20" fill="#ffffff"/><ellipse cx="1660.0" cy="454.0" rx="5.0" ry="5.8" fill="#9a5a3a"/><ellipse cx="1660.0" cy="455.7" rx="3.8" ry="4.8" fill="#d9a07a"/><ellipse cx="1660.0" cy="466.0" rx="8.0" ry="5.5" fill="#4f9a5e"/></g><circle cx="1677.5" cy="456.5" r="10.9" fill="#fff"/><clipPath id="pc16504561"><circle cx="1677.5" cy="456.5" r="10.0"/></clipPath><g clip-path="url(#pc16504561)"><rect x="1667.5" y="446.5" width="20" height="20" fill="#9a9a9a"/><ellipse cx="1677.5" cy="454.0" rx="5.0" ry="5.8" fill="#3a2a20"/><ellipse cx="1677.5" cy="455.7" rx="3.8" ry="4.8" fill="#c48a66"/><ellipse cx="1677.5" cy="466.0" rx="8.0" ry="5.5" fill="#26313d"/></g><circle cx="1695.0" cy="456.5" r="10.9" fill="#fff"/><clipPath id="pc16504562"><circle cx="1695.0" cy="456.5" r="10.0"/></clipPath><g clip-path="url(#pc16504562)"><rect x="1685.0" y="446.5" width="20" height="20" fill="#ffffff"/><ellipse cx="1695.0" cy="454.0" rx="5.0" ry="5.8" fill="#8a3a28"/><ellipse cx="1695.0" cy="455.7" rx="3.8" ry="4.8" fill="#e8b79a"/><ellipse cx="1695.0" cy="466.0" rx="8.0" ry="5.5" fill="#6a9ac0"/></g></svg>
<div class="a" style="left:1648px;top:481px;width:32.00px;height:32.00px;background:#efefef;border-radius:4px"></div>
<svg class="a" style="left:1654px;top:487px" width="20" height="20" viewBox="1654 487 20 20"><g transform="translate(0 0)" fill="#6b6b6b"><path d="M1657 491.5 l6.2 -0.7 v13.7 h-8 v-1.3 h1.8 z"/><path d="M1665.5 492.5 h2.5 l0.9 1 v9.8 h0.9 v1.2 h-2.6 v-10.8 h-1.7 z"/></g><circle cx="1661.5" cy="497.5" r="0.7" fill="#efefef"/></svg>
<div class="a" style="left:1632px;top:542px;width:278.00px;height:231.00px;border:1px solid #d8d8d8;border-radius:7px;box-sizing:border-box"></div>
<svg class="a" style="left:1873px;top:564px" width="16" height="6" viewBox="1873 564 16 6"><g fill="#444"><circle cx="1876.5" cy="567.7" r="1.1"/><circle cx="1881" cy="567.7" r="1.1"/><circle cx="1885.5" cy="567.7" r="1.1"/></g></svg>
<svg class="a" style="left:1646px;top:611px" width="90" height="25" viewBox="1646 611 90 25"><circle cx="1659.1" cy="623.5" r="11.4" fill="#fff"/><clipPath id="pc16486230"><circle cx="1659.1" cy="623.5" r="10.5"/></clipPath><g clip-path="url(#pc16486230)"><rect x="1648.6" y="613.0" width="21" height="21" fill="#f0c080"/><ellipse cx="1659.1" cy="620.875" rx="5.25" ry="6.09" fill="#c8802a"/><ellipse cx="1659.1" cy="622.66" rx="3.99" ry="5.04" fill="#e8b08a"/><ellipse cx="1659.1" cy="633.475" rx="8.4" ry="5.775" fill="#e09040"/></g><circle cx="1676.6" cy="623.5" r="11.4" fill="#fff"/><clipPath id="pc16486231"><circle cx="1676.6" cy="623.5" r="10.5"/></clipPath><g clip-path="url(#pc16486231)"><rect x="1666.1" y="613.0" width="21" height="21" fill="#7a8a6a"/><ellipse cx="1676.6" cy="620.875" rx="5.25" ry="6.09" fill="#2a2a2a"/><ellipse cx="1676.6" cy="622.66" rx="3.99" ry="5.04" fill="#c8a084"/><ellipse cx="1676.6" cy="633.475" rx="8.4" ry="5.775" fill="#3a3a3a"/></g><circle cx="1694.1" cy="623.5" r="11.4" fill="#fff"/><clipPath id="pc16486232"><circle cx="1694.1" cy="623.5" r="10.5"/></clipPath><g clip-path="url(#pc16486232)"><rect x="1683.6" y="613.0" width="21" height="21" fill="#d0d0d0"/><ellipse cx="1694.1" cy="620.875" rx="5.25" ry="6.09" fill="#2a2a2a"/><ellipse cx="1694.1" cy="622.66" rx="3.99" ry="5.04" fill="#c89a7a"/><ellipse cx="1694.1" cy="633.475" rx="8.4" ry="5.775" fill="#333"/></g></svg>
<div class="a" style="left:1648px;top:648px;width:32.00px;height:32.00px;background:#efefef;border-radius:4px"></div>
<svg class="a" style="left:1654px;top:654px" width="20" height="20" viewBox="1654 654 20 20"><g transform="translate(0 167)" fill="#6b6b6b"><path d="M1657 491.5 l6.2 -0.7 v13.7 h-8 v-1.3 h1.8 z"/><path d="M1665.5 492.5 h2.5 l0.9 1 v9.8 h0.9 v1.2 h-2.6 v-10.8 h-1.7 z"/></g><circle cx="1661.5" cy="664.5" r="0.7" fill="#efefef"/></svg>
<div class="a" style="left:1648px;top:699px;width:246.00px;height:1.00px;background:#dedede"></div>
<svg class="a" style="left:1646px;top:718px" width="16" height="16" viewBox="1646 718 16 16"><circle cx="1654.3" cy="726" r="6.3" fill="#f5a623"/><rect x="1653.5" y="722.2" width="1.6" height="4.6" rx="0.6" fill="#fff"/><circle cx="1654.3" cy="728.9" r="0.9" fill="#fff"/></svg>
<div class="a" style="left:1632px;top:782px;width:278.00px;height:226.00px;border:1px solid #d8d8d8;border-radius:7px;box-sizing:border-box"></div>
<svg class="a" style="left:1873px;top:805px" width="16" height="6" viewBox="1873 805 16 6"><g fill="#444"><circle cx="1876.5" cy="808.8" r="1.1"/><circle cx="1881" cy="808.8" r="1.1"/><circle cx="1885.5" cy="808.8" r="1.1"/></g></svg>
<svg class="a" style="left:1646px;top:853px" width="90" height="25" viewBox="1646 853 90 25"><circle cx="1659.1" cy="865.7" r="11.4" fill="#fff"/><clipPath id="pc16488650"><circle cx="1659.1" cy="865.7" r="10.5"/></clipPath><g clip-path="url(#pc16488650)"><rect x="1648.6" y="855.2" width="21" height="21" fill="#eeeeee"/><ellipse cx="1659.1" cy="863.075" rx="5.25" ry="6.09" fill="#2a2420"/><ellipse cx="1659.1" cy="864.86" rx="3.99" ry="5.04" fill="#d8b090"/><ellipse cx="1659.1" cy="875.6750000000001" rx="8.4" ry="5.775" fill="#3a302a"/></g><circle cx="1676.6" cy="865.7" r="11.4" fill="#fff"/><clipPath id="pc16488651"><circle cx="1676.6" cy="865.7" r="10.5"/></clipPath><g clip-path="url(#pc16488651)"><rect x="1666.1" y="855.2" width="21" height="21" fill="#ffffff"/><ellipse cx="1676.6" cy="863.075" rx="5.25" ry="6.09" fill="#9a5a3a"/><ellipse cx="1676.6" cy="864.86" rx="3.99" ry="5.04" fill="#d9a07a"/><ellipse cx="1676.6" cy="875.6750000000001" rx="8.4" ry="5.775" fill="#4f9a5e"/></g></svg>
<div class="a" style="left:1648px;top:892px;width:246.00px;height:1.00px;background:#dedede"></div>
<svg class="a" style="left:1647px;top:964px" width="18" height="18" viewBox="1647 964 18 18"><path d="M1656.5 966.5 q0.8 4.8 5.3 6.3 q-4.5 1.3 -5.3 6.3 q-0.8 -5 -5.3 -6.3 q4.5 -1.5 5.3 -6.3z" fill="#6a3fb8"/><circle cx="1651" cy="968.5" r="1.1" fill="#b03a80"/><circle cx="1650.5" cy="977.5" r="1" fill="#4a5fc8"/></svg>
<div class="a" style="left:1822.5px;top:957.4px;width:32.20px;height:32.00px;border:1px solid #d0d0d0;border-radius:4px;box-sizing:border-box;box-shadow:0 1px 1px rgba(0,0,0,0.06)"></div>
<div class="a" style="left:1862.2px;top:957.4px;width:31.50px;height:32.00px;border:1px solid #d0d0d0;border-radius:4px;box-sizing:border-box;box-shadow:0 1px 1px rgba(0,0,0,0.06)"></div>
<svg class="a" style="left:1830px;top:965px" width="16" height="16" viewBox="1830 965 16 16"><path d="M1833 973.5 l3.3 3.3 l6.5 -7" fill="none" stroke="#222" stroke-width="1.4"/></svg>
<svg class="a" style="left:1870px;top:965px" width="16" height="16" viewBox="1870 965 16 16"><path d="M1873 968.5 l9 9 M1882 968.5 l-9 9" stroke="#222" stroke-width="1.4"/></svg>
<div class="a t" id="robin" style="left:65.3px;top:20.86px;font-size:28px;font-weight:700;color:#fff;letter-spacing:0.000px;transform:scaleY(1.17);transform-origin:0 25.3px;">Robin</div>
<div class="a t" id="n_map" style="left:53.1px;top:79.78px;font-size:13.5px;font-weight:400;color:#fff;letter-spacing:-0.389px;">Map</div>
<div class="a t" id="n_sch" style="left:52.7px;top:121.43px;font-size:13px;font-weight:400;color:#c3c8d0;letter-spacing:-0.165px;">Schedule</div>
<div class="a t" id="n_peo" style="left:52.7px;top:161.94px;font-size:13px;font-weight:400;color:#c3c8d0;letter-spacing:-0.314px;">People</div>
<div class="a t" id="n_mee" style="left:52.7px;top:201.28px;font-size:13.5px;font-weight:400;color:#fff;letter-spacing:-0.290px;">Meeting spaces</div>
<div class="a t" id="n_ana" style="left:52.7px;top:241.78px;font-size:13.5px;font-weight:400;color:#c3c8d0;letter-spacing:-0.003px;">Analytics</div>
<div class="a t" id="n_wor" style="left:52.7px;top:281.78px;font-size:13.5px;font-weight:400;color:#c3c8d0;letter-spacing:-0.148px;">Workplace</div>
<div class="a t" id="n_sup" style="left:52.7px;top:978.38px;font-size:13.5px;font-weight:400;color:#c3c8d0;letter-spacing:-0.142px;">Support</div>
<div class="a t" id="n_fee" style="left:52.7px;top:1018.83px;font-size:13px;font-weight:400;color:#c3c8d0;letter-spacing:-0.187px;">Feedback</div>
<div class="a t" id="n_usr" style="left:62px;top:1059.58px;font-size:13.5px;font-weight:400;color:#c3c8d0;letter-spacing:-0.310px;">Barry O Leary</div>
<div class="a t" id="h_map" style="left:234px;top:22.26px;font-size:28px;font-weight:400;color:#161616;letter-spacing:-0.223px;-webkit-text-stroke:0.35px #161616;">Map</div>
<div class="a t" id="h_loc" style="left:243.8px;top:76.03px;font-size:13px;font-weight:400;color:#222;letter-spacing:-0.028px;">53 State, Boston HQ</div>
<div class="a t" id="h_flo" style="left:413.5px;top:75.53px;font-size:13px;font-weight:400;color:#222;letter-spacing:-0.338px;">Floor 26</div>
<div class="a t" id="h_dat" style="left:564.1px;top:75.03px;font-size:13px;font-weight:400;color:#222;letter-spacing:0.250px;">2026-03-24</div>
<div class="a t" id="h_tim" style="left:691.8px;top:75.23px;font-size:13px;font-weight:400;color:#222;letter-spacing:-0.369px;">11:50 am</div>
<div class="a t" id="h_end" style="left:807px;top:74.83px;font-size:13px;font-weight:700;color:#222;letter-spacing:-0.363px;">End time</div>
<div class="a t" id="f_des" style="left:258.4px;top:142.99px;font-size:12.5px;font-weight:400;color:#222;letter-spacing:-0.207px;">Desks</div>
<div class="a t" id="f_spa" style="left:343.3px;top:142.99px;font-size:12.5px;font-weight:400;color:#222;letter-spacing:-0.117px;">Spaces</div>
<div class="a t" id="f_nei" style="left:432px;top:142.54px;font-size:13px;font-weight:400;color:#222;letter-spacing:0.178px;">Neighborhoods</div>
<div class="a t" id="f_loc" style="left:574px;top:142.54px;font-size:13px;font-weight:400;color:#222;letter-spacing:-0.219px;">Lockers</div>
<div class="a t" id="p_date" style="left:1633px;top:20.42px;font-size:16px;font-weight:700;color:#1d1d1d;letter-spacing:0.041px;">Tue, Mar 24</div>
<div class="a t" id="p_desks" style="left:1633px;top:77.89px;font-size:12.5px;font-weight:400;color:#262626;letter-spacing:-0.327px;">Desks</div>
<div class="a t" id="p_dtime" style="left:1644.6px;top:116.93px;font-size:13px;font-weight:400;color:#666;letter-spacing:0.176px;">8:52 am - 7:00 pm</div>
<div class="a t" id="p_desk" style="left:1684.4px;top:143.90px;font-size:14.7px;font-weight:400;color:#2b2b2b;letter-spacing:-0.004px;">Desk L26-3D, Star Dust</div>
<div class="a t" id="p_dflo" style="left:1684.4px;top:165.54px;font-size:11px;font-weight:400;color:#6a6a6a;letter-spacing:-0.059px;">Floor 26, 53 State</div>
<div class="a t" id="p_lock" style="left:1633px;top:204.09px;font-size:12.5px;font-weight:400;color:#262626;letter-spacing:-0.083px;">Lockers</div>
<div class="a t" id="p_lend" style="left:1648.3px;top:247.34px;font-size:13px;font-weight:400;color:#9a9a9a;letter-spacing:-0.252px;">Ends at 11:46 am</div>
<div class="a t" id="p_c4" style="left:1691.5px;top:277.93px;font-size:14px;font-weight:400;color:#737373;letter-spacing:-0.003px;">C4</div>
<div class="a t" id="p_lflo" style="left:1691.5px;top:300.35px;font-size:11px;font-weight:400;color:#9d9d9d;letter-spacing:-0.042px;">Floor 26, 53 State</div>
<div class="a t" id="p_events" style="left:1633px;top:349.49px;font-size:12.5px;font-weight:400;color:#262626;letter-spacing:-0.220px;">Events</div>
<div class="a t" id="e1_t" style="left:1648px;top:391.84px;font-size:13px;font-weight:400;color:#666;letter-spacing:0.076px;">Starts at 1:00 pm</div>
<div class="a t" id="e1_n" style="left:1648px;top:419.24px;font-size:13px;font-weight:400;color:#3f3f3f;letter-spacing:0.159px;-webkit-text-stroke:0.25px #3f3f3f;">Messaging and Positioning Catch Up</div>
<div class="a t" id="e1_a" style="left:1716.4px;top:450.59px;font-size:11.5px;font-weight:400;color:#555;letter-spacing:-0.002px;">3 attendees in office</div>
<div class="a t" id="e1_r" style="left:1687.5px;top:478.78px;font-size:14.5px;font-weight:400;color:#2e2e2e;letter-spacing:0.150px;">Starship</div>
<div class="a t" id="e1_s" style="left:1687.5px;top:501.44px;font-size:11px;font-weight:400;color:#666;letter-spacing:-0.011px;">53 State</div>
<div class="a t" id="e2_t" style="left:1648px;top:559.24px;font-size:13px;font-weight:400;color:#666;letter-spacing:0.029px;">Starts at 1:30 pm</div>
<div class="a t" id="e2_n" style="left:1648px;top:586.74px;font-size:13px;font-weight:400;color:#3f3f3f;letter-spacing:-0.048px;-webkit-text-stroke:0.25px #3f3f3f;">CS + Product Bi-Weekly</div>
<div class="a t" id="e2_a" style="left:1716.2px;top:616.89px;font-size:11.5px;font-weight:400;color:#555;letter-spacing:-0.047px;">10 attendees in office</div>
<div class="a t" id="e2_r" style="left:1687.6px;top:646.18px;font-size:14.5px;font-weight:400;color:#2e2e2e;letter-spacing:0.199px;">Mission Control</div>
<div class="a t" id="e2_s" style="left:1687.6px;top:668.75px;font-size:11px;font-weight:400;color:#666;letter-spacing:0.002px;">53 State</div>
<div class="a t" id="e2_w1" style="left:1671.8px;top:718.74px;font-size:13px;font-weight:400;color:#2e2e2e;letter-spacing:0.106px;">You don't have permission to edit this</div>
<div class="a t" id="e2_w2" style="left:1671.8px;top:739.94px;font-size:13px;font-weight:400;color:#2e2e2e;letter-spacing:0.000px;">event.</div>
<div class="a t" id="e3_t" style="left:1648px;top:800.44px;font-size:13px;font-weight:400;color:#666;letter-spacing:0.259px;">Starts at 4:00 pm</div>
<div class="a t" id="e3_n" style="left:1648px;top:828.53px;font-size:13px;font-weight:400;color:#3f3f3f;letter-spacing:0.076px;-webkit-text-stroke:0.25px #3f3f3f;">Marketing Weekly Sync</div>
<div class="a t" id="e3_a" style="left:1698.9px;top:858.09px;font-size:11.5px;font-weight:400;color:#555;letter-spacing:-0.011px;">2 attendees in office</div>
<div class="a t" id="e3_b" style="left:1648px;top:907.69px;font-size:12.5px;font-weight:700;color:#b03a80;letter-spacing:-0.286px;background:linear-gradient(90deg,#c1307a,#8a44b0 55%,#3d6fc4);-webkit-background-clip:text;background-clip:text;color:transparent;">Book suggested space?</div>
<div class="a t" id="e3_g" style="left:1648px;top:932.39px;font-size:11.5px;font-weight:400;color:#a33c8c;letter-spacing:0.051px;background:linear-gradient(90deg,#c1307a,#6b4cc0);-webkit-background-clip:text;background-clip:text;color:transparent;-webkit-text-stroke:0.2px #9a3e94;">Good match:</div>
<div class="a t" id="e3_f" style="left:1719.1px;top:932.39px;font-size:11.5px;font-weight:400;color:#555;letter-spacing:0.020px;">Fits 4 • Breakout</div>
<div class="a t" id="e3_r" style="left:1669.6px;top:957.24px;font-size:13px;font-weight:400;color:#2e2e2e;letter-spacing:0.229px;-webkit-text-stroke:0.35px #2e2e2e;">Mandalore</div>
<div class="a t" id="e3_s" style="left:1669.6px;top:976.75px;font-size:11px;font-weight:400;color:#666;letter-spacing:0.002px;">53 State</div>
</body></html>
